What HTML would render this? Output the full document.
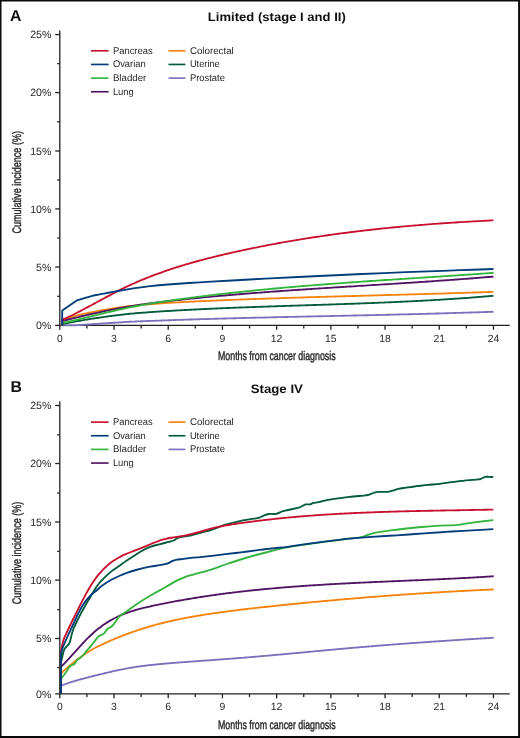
<!DOCTYPE html>
<html><head><meta charset="utf-8"><style>
html,body{margin:0;padding:0;background:#fff;width:520px;height:738px;overflow:hidden}
svg{display:block;will-change:transform}
</style></head><body>
<svg width="520" height="738" viewBox="0 0 520 738" font-family='"Liberation Sans", sans-serif' style="text-rendering:geometricPrecision">
<rect x="0" y="0" width="520" height="738" fill="#ffffff"/>
<line x1="59.8" y1="30.4" x2="59.8" y2="329.79999999999995" stroke="#231f20" stroke-width="1.3"/>
<line x1="55.199999999999996" y1="325.4" x2="509.7" y2="325.4" stroke="#231f20" stroke-width="1.3"/>
<line x1="55.199999999999996" y1="34.6" x2="59.8" y2="34.6" stroke="#231f20" stroke-width="1.3"/>
<text x="51.4" y="38.20" text-anchor="end" font-size="10.6" fill="#272727">25%</text>
<line x1="57.199999999999996" y1="63.6" x2="59.8" y2="63.6" stroke="#231f20" stroke-width="1.3"/>
<line x1="55.199999999999996" y1="92.6" x2="59.8" y2="92.6" stroke="#231f20" stroke-width="1.3"/>
<text x="51.4" y="96.20" text-anchor="end" font-size="10.6" fill="#272727">20%</text>
<line x1="57.199999999999996" y1="121.8" x2="59.8" y2="121.8" stroke="#231f20" stroke-width="1.3"/>
<line x1="55.199999999999996" y1="151.0" x2="59.8" y2="151.0" stroke="#231f20" stroke-width="1.3"/>
<text x="51.4" y="154.60" text-anchor="end" font-size="10.6" fill="#272727">15%</text>
<line x1="57.199999999999996" y1="180.0" x2="59.8" y2="180.0" stroke="#231f20" stroke-width="1.3"/>
<line x1="55.199999999999996" y1="208.9" x2="59.8" y2="208.9" stroke="#231f20" stroke-width="1.3"/>
<text x="51.4" y="212.50" text-anchor="end" font-size="10.6" fill="#272727">10%</text>
<line x1="57.199999999999996" y1="238.0" x2="59.8" y2="238.0" stroke="#231f20" stroke-width="1.3"/>
<line x1="55.199999999999996" y1="267.0" x2="59.8" y2="267.0" stroke="#231f20" stroke-width="1.3"/>
<text x="51.4" y="270.60" text-anchor="end" font-size="10.6" fill="#272727">5%</text>
<line x1="57.199999999999996" y1="296.3" x2="59.8" y2="296.3" stroke="#231f20" stroke-width="1.3"/>
<text x="51.4" y="329.00" text-anchor="end" font-size="10.6" fill="#272727">0%</text>
<line x1="86.91" y1="325.4" x2="86.91" y2="328.4" stroke="#231f20" stroke-width="1.3"/>
<line x1="114.01" y1="325.4" x2="114.01" y2="329.79999999999995" stroke="#231f20" stroke-width="1.3"/>
<line x1="141.12" y1="325.4" x2="141.12" y2="328.4" stroke="#231f20" stroke-width="1.3"/>
<line x1="168.22" y1="325.4" x2="168.22" y2="329.79999999999995" stroke="#231f20" stroke-width="1.3"/>
<line x1="195.32" y1="325.4" x2="195.32" y2="328.4" stroke="#231f20" stroke-width="1.3"/>
<line x1="222.43" y1="325.4" x2="222.43" y2="329.79999999999995" stroke="#231f20" stroke-width="1.3"/>
<line x1="249.54" y1="325.4" x2="249.54" y2="328.4" stroke="#231f20" stroke-width="1.3"/>
<line x1="276.64" y1="325.4" x2="276.64" y2="329.79999999999995" stroke="#231f20" stroke-width="1.3"/>
<line x1="303.75" y1="325.4" x2="303.75" y2="328.4" stroke="#231f20" stroke-width="1.3"/>
<line x1="330.85" y1="325.4" x2="330.85" y2="329.79999999999995" stroke="#231f20" stroke-width="1.3"/>
<line x1="357.96" y1="325.4" x2="357.96" y2="328.4" stroke="#231f20" stroke-width="1.3"/>
<line x1="385.06" y1="325.4" x2="385.06" y2="329.79999999999995" stroke="#231f20" stroke-width="1.3"/>
<line x1="412.17" y1="325.4" x2="412.17" y2="328.4" stroke="#231f20" stroke-width="1.3"/>
<line x1="439.27" y1="325.4" x2="439.27" y2="329.79999999999995" stroke="#231f20" stroke-width="1.3"/>
<line x1="466.38" y1="325.4" x2="466.38" y2="328.4" stroke="#231f20" stroke-width="1.3"/>
<line x1="493.48" y1="325.4" x2="493.48" y2="329.79999999999995" stroke="#231f20" stroke-width="1.3"/>
<text x="59.80" y="341.7" text-anchor="middle" font-size="10.4" fill="#272727">0</text>
<text x="114.01" y="341.7" text-anchor="middle" font-size="10.4" fill="#272727">3</text>
<text x="168.22" y="341.7" text-anchor="middle" font-size="10.4" fill="#272727">6</text>
<text x="222.43" y="341.7" text-anchor="middle" font-size="10.4" fill="#272727">9</text>
<text x="276.64" y="341.7" text-anchor="middle" font-size="10.4" fill="#272727">12</text>
<text x="330.85" y="341.7" text-anchor="middle" font-size="10.4" fill="#272727">15</text>
<text x="385.06" y="341.7" text-anchor="middle" font-size="10.4" fill="#272727">18</text>
<text x="439.27" y="341.7" text-anchor="middle" font-size="10.4" fill="#272727">21</text>
<text x="493.48" y="341.7" text-anchor="middle" font-size="10.4" fill="#272727">24</text>
<text x="10.0" y="21.1" font-size="15.8" font-weight="bold" fill="#111">A</text>
<text x="276.8" y="21.3" text-anchor="middle" font-size="12.2" font-weight="bold" fill="#111" textLength="138" lengthAdjust="spacingAndGlyphs">Limited (stage I and II)</text>
<text x="276.8" y="360.0" text-anchor="middle" font-size="12.4" fill="#272727" stroke="#272727" stroke-width="0.4" textLength="117.6" lengthAdjust="spacingAndGlyphs">Months from cancer diagnosis</text>
<text transform="translate(20.6,182.3) rotate(-90)" x="0" y="0" text-anchor="middle" font-size="12.4" fill="#272727" stroke="#272727" stroke-width="0.4" textLength="102.5" lengthAdjust="spacingAndGlyphs">Cumulative incidence (%)</text>
<line x1="91" y1="50.80" x2="108.6" y2="50.80" stroke="#c8102e" stroke-width="1.65"/>
<text x="112.9" y="53.70" font-size="9.8" fill="#272727" textLength="39.8" lengthAdjust="spacingAndGlyphs">Pancreas</text>
<line x1="91" y1="64.45" x2="108.6" y2="64.45" stroke="#003d7a" stroke-width="1.65"/>
<text x="112.9" y="67.35" font-size="9.8" fill="#272727" textLength="32.8" lengthAdjust="spacingAndGlyphs">Ovarian</text>
<line x1="91" y1="78.10" x2="108.6" y2="78.10" stroke="#33b43c" stroke-width="1.65"/>
<text x="112.9" y="81.00" font-size="9.8" fill="#272727" textLength="33.4" lengthAdjust="spacingAndGlyphs">Bladder</text>
<line x1="91" y1="91.75" x2="108.6" y2="91.75" stroke="#501464" stroke-width="1.65"/>
<text x="112.9" y="94.65" font-size="9.8" fill="#272727" textLength="20.9" lengthAdjust="spacingAndGlyphs">Lung</text>
<line x1="168.5" y1="50.80" x2="185.4" y2="50.80" stroke="#f5820a" stroke-width="1.65"/>
<text x="189.9" y="53.70" font-size="9.8" fill="#272727" textLength="43.9" lengthAdjust="spacingAndGlyphs">Colorectal</text>
<line x1="168.5" y1="64.45" x2="185.4" y2="64.45" stroke="#005a3c" stroke-width="1.65"/>
<text x="189.9" y="67.35" font-size="9.8" fill="#272727" textLength="29.9" lengthAdjust="spacingAndGlyphs">Uterine</text>
<line x1="168.5" y1="78.10" x2="185.4" y2="78.10" stroke="#7a70bb" stroke-width="1.65"/>
<text x="189.9" y="81.00" font-size="9.8" fill="#272727" textLength="35.0" lengthAdjust="spacingAndGlyphs">Prostate</text>
<line x1="59.8" y1="401.3" x2="59.8" y2="698.3" stroke="#231f20" stroke-width="1.3"/>
<line x1="55.199999999999996" y1="693.9" x2="509.7" y2="693.9" stroke="#231f20" stroke-width="1.3"/>
<line x1="55.199999999999996" y1="405.5" x2="59.8" y2="405.5" stroke="#231f20" stroke-width="1.3"/>
<text x="51.4" y="409.10" text-anchor="end" font-size="10.6" fill="#272727">25%</text>
<line x1="57.199999999999996" y1="434.8" x2="59.8" y2="434.8" stroke="#231f20" stroke-width="1.3"/>
<line x1="55.199999999999996" y1="463.5" x2="59.8" y2="463.5" stroke="#231f20" stroke-width="1.3"/>
<text x="51.4" y="467.10" text-anchor="end" font-size="10.6" fill="#272727">20%</text>
<line x1="57.199999999999996" y1="493.0" x2="59.8" y2="493.0" stroke="#231f20" stroke-width="1.3"/>
<line x1="55.199999999999996" y1="522.0" x2="59.8" y2="522.0" stroke="#231f20" stroke-width="1.3"/>
<text x="51.4" y="525.60" text-anchor="end" font-size="10.6" fill="#272727">15%</text>
<line x1="57.199999999999996" y1="551.4" x2="59.8" y2="551.4" stroke="#231f20" stroke-width="1.3"/>
<line x1="55.199999999999996" y1="580.1" x2="59.8" y2="580.1" stroke="#231f20" stroke-width="1.3"/>
<text x="51.4" y="583.70" text-anchor="end" font-size="10.6" fill="#272727">10%</text>
<line x1="57.199999999999996" y1="609.7" x2="59.8" y2="609.7" stroke="#231f20" stroke-width="1.3"/>
<line x1="55.199999999999996" y1="638.5" x2="59.8" y2="638.5" stroke="#231f20" stroke-width="1.3"/>
<text x="51.4" y="642.10" text-anchor="end" font-size="10.6" fill="#272727">5%</text>
<line x1="57.199999999999996" y1="667.6" x2="59.8" y2="667.6" stroke="#231f20" stroke-width="1.3"/>
<text x="51.4" y="697.50" text-anchor="end" font-size="10.6" fill="#272727">0%</text>
<line x1="86.91" y1="693.9" x2="86.91" y2="696.9" stroke="#231f20" stroke-width="1.3"/>
<line x1="114.01" y1="693.9" x2="114.01" y2="698.3" stroke="#231f20" stroke-width="1.3"/>
<line x1="141.12" y1="693.9" x2="141.12" y2="696.9" stroke="#231f20" stroke-width="1.3"/>
<line x1="168.22" y1="693.9" x2="168.22" y2="698.3" stroke="#231f20" stroke-width="1.3"/>
<line x1="195.32" y1="693.9" x2="195.32" y2="696.9" stroke="#231f20" stroke-width="1.3"/>
<line x1="222.43" y1="693.9" x2="222.43" y2="698.3" stroke="#231f20" stroke-width="1.3"/>
<line x1="249.54" y1="693.9" x2="249.54" y2="696.9" stroke="#231f20" stroke-width="1.3"/>
<line x1="276.64" y1="693.9" x2="276.64" y2="698.3" stroke="#231f20" stroke-width="1.3"/>
<line x1="303.75" y1="693.9" x2="303.75" y2="696.9" stroke="#231f20" stroke-width="1.3"/>
<line x1="330.85" y1="693.9" x2="330.85" y2="698.3" stroke="#231f20" stroke-width="1.3"/>
<line x1="357.96" y1="693.9" x2="357.96" y2="696.9" stroke="#231f20" stroke-width="1.3"/>
<line x1="385.06" y1="693.9" x2="385.06" y2="698.3" stroke="#231f20" stroke-width="1.3"/>
<line x1="412.17" y1="693.9" x2="412.17" y2="696.9" stroke="#231f20" stroke-width="1.3"/>
<line x1="439.27" y1="693.9" x2="439.27" y2="698.3" stroke="#231f20" stroke-width="1.3"/>
<line x1="466.38" y1="693.9" x2="466.38" y2="696.9" stroke="#231f20" stroke-width="1.3"/>
<line x1="493.48" y1="693.9" x2="493.48" y2="698.3" stroke="#231f20" stroke-width="1.3"/>
<text x="59.80" y="709.5" text-anchor="middle" font-size="10.4" fill="#272727">0</text>
<text x="114.01" y="709.5" text-anchor="middle" font-size="10.4" fill="#272727">3</text>
<text x="168.22" y="709.5" text-anchor="middle" font-size="10.4" fill="#272727">6</text>
<text x="222.43" y="709.5" text-anchor="middle" font-size="10.4" fill="#272727">9</text>
<text x="276.64" y="709.5" text-anchor="middle" font-size="10.4" fill="#272727">12</text>
<text x="330.85" y="709.5" text-anchor="middle" font-size="10.4" fill="#272727">15</text>
<text x="385.06" y="709.5" text-anchor="middle" font-size="10.4" fill="#272727">18</text>
<text x="439.27" y="709.5" text-anchor="middle" font-size="10.4" fill="#272727">21</text>
<text x="493.48" y="709.5" text-anchor="middle" font-size="10.4" fill="#272727">24</text>
<text x="10.4" y="392.4" font-size="15.8" font-weight="bold" fill="#111">B</text>
<text x="276.8" y="392.7" text-anchor="middle" font-size="12.2" font-weight="bold" fill="#111" textLength="52.2" lengthAdjust="spacingAndGlyphs">Stage IV</text>
<text x="276.8" y="728.8" text-anchor="middle" font-size="12.4" fill="#272727" stroke="#272727" stroke-width="0.4" textLength="117.6" lengthAdjust="spacingAndGlyphs">Months from cancer diagnosis</text>
<text transform="translate(20.6,553.0) rotate(-90)" x="0" y="0" text-anchor="middle" font-size="12.4" fill="#272727" stroke="#272727" stroke-width="0.4" textLength="102.5" lengthAdjust="spacingAndGlyphs">Cumulative incidence (%)</text>
<line x1="91" y1="422.10" x2="108.6" y2="422.10" stroke="#c8102e" stroke-width="1.65"/>
<text x="112.9" y="425.00" font-size="9.8" fill="#272727" textLength="39.8" lengthAdjust="spacingAndGlyphs">Pancreas</text>
<line x1="91" y1="435.75" x2="108.6" y2="435.75" stroke="#003d7a" stroke-width="1.65"/>
<text x="112.9" y="438.65" font-size="9.8" fill="#272727" textLength="32.8" lengthAdjust="spacingAndGlyphs">Ovarian</text>
<line x1="91" y1="449.40" x2="108.6" y2="449.40" stroke="#33b43c" stroke-width="1.65"/>
<text x="112.9" y="452.30" font-size="9.8" fill="#272727" textLength="33.4" lengthAdjust="spacingAndGlyphs">Bladder</text>
<line x1="91" y1="463.05" x2="108.6" y2="463.05" stroke="#501464" stroke-width="1.65"/>
<text x="112.9" y="465.95" font-size="9.8" fill="#272727" textLength="20.9" lengthAdjust="spacingAndGlyphs">Lung</text>
<line x1="168.5" y1="422.10" x2="185.4" y2="422.10" stroke="#f5820a" stroke-width="1.65"/>
<text x="189.9" y="425.00" font-size="9.8" fill="#272727" textLength="43.9" lengthAdjust="spacingAndGlyphs">Colorectal</text>
<line x1="168.5" y1="435.75" x2="185.4" y2="435.75" stroke="#005a3c" stroke-width="1.65"/>
<text x="189.9" y="438.65" font-size="9.8" fill="#272727" textLength="29.9" lengthAdjust="spacingAndGlyphs">Uterine</text>
<line x1="168.5" y1="449.40" x2="185.4" y2="449.40" stroke="#7a70bb" stroke-width="1.65"/>
<text x="189.9" y="452.30" font-size="9.8" fill="#272727" textLength="35.0" lengthAdjust="spacingAndGlyphs">Prostate</text>
<path d="M62.20,325.40 L62.20,325.00 L62.20,325.30 C62.62,325.30 63.87,325.30 64.70,325.30 C65.53,325.30 66.37,325.30 67.20,325.30 C68.03,325.30 68.87,325.30 69.70,325.30 C70.53,325.30 71.37,325.30 72.20,325.30 C73.03,325.30 73.87,325.32 74.70,325.30 C75.53,325.28 76.37,325.21 77.20,325.16 C78.03,325.11 78.87,325.05 79.70,325.00 C80.53,324.94 81.37,324.89 82.20,324.83 C83.03,324.78 83.87,324.72 84.70,324.67 C85.53,324.62 86.37,324.56 87.20,324.51 C88.03,324.46 88.87,324.40 89.70,324.35 C90.53,324.30 91.37,324.24 92.20,324.19 C93.03,324.14 93.87,324.09 94.70,324.04 C95.53,323.98 96.37,323.93 97.20,323.88 C98.03,323.83 98.87,323.77 99.70,323.71 C100.53,323.66 101.37,323.60 102.20,323.54 C103.03,323.49 103.87,323.43 104.70,323.38 C105.53,323.32 106.37,323.26 107.20,323.21 C108.03,323.15 108.87,323.10 109.70,323.04 C110.53,322.99 111.37,322.93 112.20,322.88 C113.03,322.82 113.87,322.77 114.70,322.71 C115.53,322.66 116.37,322.61 117.20,322.55 C118.03,322.50 118.87,322.45 119.70,322.39 C120.53,322.34 121.37,322.29 122.20,322.23 C123.03,322.18 123.87,322.13 124.70,322.08 C125.53,322.02 126.37,321.97 127.20,321.92 C128.03,321.87 128.87,321.81 129.70,321.77 C130.53,321.72 131.37,321.69 132.20,321.65 C133.03,321.62 133.87,321.58 134.70,321.55 C135.53,321.51 136.37,321.48 137.20,321.45 C138.03,321.41 138.87,321.38 139.70,321.34 C140.53,321.31 141.37,321.27 142.20,321.24 C143.03,321.21 143.87,321.17 144.70,321.14 C145.53,321.11 146.37,321.08 147.20,321.04 C148.03,321.01 148.87,320.98 149.70,320.95 C150.53,320.91 151.37,320.88 152.20,320.85 C153.03,320.82 153.87,320.79 154.70,320.75 C155.53,320.72 156.37,320.69 157.20,320.66 C158.03,320.63 158.87,320.60 159.70,320.57 C160.53,320.54 161.37,320.51 162.20,320.48 C163.03,320.44 163.87,320.41 164.70,320.38 C165.53,320.35 166.37,320.32 167.20,320.30 C168.03,320.27 168.87,320.24 169.70,320.21 C170.53,320.18 171.37,320.15 172.20,320.12 C173.03,320.09 173.87,320.06 174.70,320.03 C175.53,320.00 176.37,319.98 177.20,319.95 C178.03,319.92 178.87,319.89 179.70,319.86 C180.53,319.84 181.37,319.81 182.20,319.78 C183.03,319.75 183.87,319.73 184.70,319.70 C185.53,319.67 186.37,319.64 187.20,319.62 C188.03,319.59 188.87,319.56 189.70,319.54 C190.53,319.51 191.37,319.48 192.20,319.46 C193.03,319.43 193.87,319.41 194.70,319.38 C195.53,319.35 196.37,319.33 197.20,319.30 C198.03,319.28 198.87,319.25 199.70,319.23 C200.53,319.20 201.37,319.18 202.20,319.15 C203.03,319.12 203.87,319.10 204.70,319.08 C205.53,319.05 206.37,319.03 207.20,319.00 C208.03,318.98 208.87,318.95 209.70,318.93 C210.53,318.90 211.37,318.88 212.20,318.86 C213.03,318.83 213.87,318.81 214.70,318.78 C215.53,318.76 216.37,318.74 217.20,318.71 C218.03,318.69 218.87,318.67 219.70,318.64 C220.53,318.62 221.37,318.60 222.20,318.57 C223.03,318.55 223.87,318.53 224.70,318.50 C225.53,318.48 226.37,318.46 227.20,318.44 C228.03,318.41 228.87,318.39 229.70,318.37 C230.53,318.35 231.37,318.33 232.20,318.30 C233.03,318.28 233.87,318.26 234.70,318.24 C235.53,318.22 236.37,318.19 237.20,318.17 C238.03,318.15 238.87,318.13 239.70,318.11 C240.53,318.09 241.37,318.06 242.20,318.04 C243.03,318.02 243.87,318.00 244.70,317.98 C245.53,317.96 246.37,317.94 247.20,317.92 C248.03,317.90 248.87,317.87 249.70,317.85 C250.53,317.83 251.37,317.81 252.20,317.79 C253.03,317.77 253.87,317.75 254.70,317.73 C255.53,317.71 256.37,317.69 257.20,317.67 C258.03,317.65 258.87,317.63 259.70,317.61 C260.53,317.59 261.37,317.57 262.20,317.55 C263.03,317.53 263.87,317.51 264.70,317.49 C265.53,317.47 266.37,317.45 267.20,317.43 C268.03,317.41 268.87,317.39 269.70,317.37 C270.53,317.35 271.37,317.33 272.20,317.31 C273.03,317.29 273.87,317.28 274.70,317.26 C275.53,317.24 276.37,317.22 277.20,317.20 C278.03,317.18 278.87,317.16 279.70,317.14 C280.53,317.12 281.37,317.10 282.20,317.09 C283.03,317.07 283.87,317.05 284.70,317.03 C285.53,317.01 286.37,316.99 287.20,316.97 C288.03,316.95 288.87,316.94 289.70,316.92 C290.53,316.90 291.37,316.88 292.20,316.86 C293.03,316.84 293.87,316.82 294.70,316.81 C295.53,316.79 296.37,316.77 297.20,316.75 C298.03,316.73 298.87,316.71 299.70,316.70 C300.53,316.68 301.37,316.66 302.20,316.64 C303.03,316.62 303.87,316.60 304.70,316.59 C305.53,316.57 306.37,316.55 307.20,316.53 C308.03,316.51 308.87,316.50 309.70,316.48 C310.53,316.46 311.37,316.44 312.20,316.42 C313.03,316.41 313.87,316.39 314.70,316.37 C315.53,316.35 316.37,316.33 317.20,316.32 C318.03,316.30 318.87,316.28 319.70,316.26 C320.53,316.24 321.37,316.23 322.20,316.21 C323.03,316.19 323.87,316.17 324.70,316.15 C325.53,316.14 326.37,316.12 327.20,316.10 C328.03,316.08 328.87,316.06 329.70,316.05 C330.53,316.03 331.37,316.01 332.20,315.99 C333.03,315.98 333.87,315.96 334.70,315.94 C335.53,315.92 336.37,315.90 337.20,315.89 C338.03,315.87 338.87,315.85 339.70,315.83 C340.53,315.81 341.37,315.80 342.20,315.78 C343.03,315.76 343.87,315.74 344.70,315.72 C345.53,315.71 346.37,315.69 347.20,315.67 C348.03,315.65 348.87,315.63 349.70,315.62 C350.53,315.60 351.37,315.58 352.20,315.56 C353.03,315.54 353.87,315.53 354.70,315.51 C355.53,315.49 356.37,315.47 357.20,315.45 C358.03,315.43 358.87,315.42 359.70,315.40 C360.53,315.38 361.37,315.36 362.20,315.34 C363.03,315.32 363.87,315.31 364.70,315.29 C365.53,315.27 366.37,315.25 367.20,315.23 C368.03,315.21 368.87,315.19 369.70,315.18 C370.53,315.16 371.37,315.14 372.20,315.12 C373.03,315.10 373.87,315.08 374.70,315.06 C375.53,315.05 376.37,315.03 377.20,315.01 C378.03,314.99 378.87,314.97 379.70,314.95 C380.53,314.93 381.37,314.91 382.20,314.89 C383.03,314.87 383.87,314.85 384.70,314.84 C385.53,314.82 386.37,314.80 387.20,314.78 C388.03,314.76 388.87,314.74 389.70,314.72 C390.53,314.70 391.37,314.68 392.20,314.66 C393.03,314.64 393.87,314.62 394.70,314.60 C395.53,314.58 396.37,314.56 397.20,314.54 C398.03,314.52 398.87,314.50 399.70,314.48 C400.53,314.46 401.37,314.44 402.20,314.42 C403.03,314.40 403.87,314.38 404.70,314.36 C405.53,314.34 406.37,314.32 407.20,314.30 C408.03,314.28 408.87,314.26 409.70,314.24 C410.53,314.21 411.37,314.19 412.20,314.17 C413.03,314.15 413.87,314.13 414.70,314.11 C415.53,314.09 416.37,314.07 417.20,314.05 C418.03,314.02 418.87,314.00 419.70,313.98 C420.53,313.96 421.37,313.94 422.20,313.92 C423.03,313.89 423.87,313.87 424.70,313.85 C425.53,313.83 426.37,313.81 427.20,313.78 C428.03,313.76 428.87,313.74 429.70,313.72 C430.53,313.70 431.37,313.67 432.20,313.65 C433.03,313.63 433.87,313.60 434.70,313.58 C435.53,313.56 436.37,313.54 437.20,313.51 C438.03,313.49 438.87,313.47 439.70,313.44 C440.53,313.42 441.37,313.40 442.20,313.37 C443.03,313.35 443.87,313.33 444.70,313.30 C445.53,313.28 446.37,313.25 447.20,313.23 C448.03,313.21 448.87,313.18 449.70,313.16 C450.53,313.13 451.37,313.11 452.20,313.08 C453.03,313.06 453.87,313.03 454.70,313.01 C455.53,312.98 456.37,312.96 457.20,312.93 C458.03,312.91 458.87,312.88 459.70,312.86 C460.53,312.83 461.37,312.81 462.20,312.78 C463.03,312.75 463.87,312.73 464.70,312.70 C465.53,312.68 466.37,312.65 467.20,312.62 C468.03,312.60 468.87,312.57 469.70,312.54 C470.53,312.52 471.37,312.49 472.20,312.46 C473.03,312.44 473.87,312.41 474.70,312.38 C475.53,312.35 476.37,312.33 477.20,312.30 C478.03,312.27 478.87,312.24 479.70,312.22 C480.53,312.19 481.37,312.16 482.20,312.13 C483.03,312.10 483.87,312.07 484.70,312.04 C485.53,312.02 486.37,311.99 487.20,311.96 C488.03,311.93 488.87,311.90 489.70,311.87 C490.53,311.84 491.57,311.80 492.20,311.78 C492.83,311.76 493.28,311.74 493.50,311.73" fill="none" stroke="#7a70bb" stroke-width="1.85" stroke-linejoin="round" stroke-linecap="butt"/>
<path d="M62.20,325.40 L62.20,324.30 L62.20,324.15 C62.62,324.06 63.87,323.80 64.70,323.62 C65.53,323.45 66.37,323.28 67.20,323.11 C68.03,322.95 68.87,322.78 69.70,322.62 C70.53,322.45 71.37,322.29 72.20,322.13 C73.03,321.97 73.87,321.82 74.70,321.66 C75.53,321.51 76.37,321.36 77.20,321.20 C78.03,321.05 78.87,320.91 79.70,320.76 C80.53,320.61 81.37,320.47 82.20,320.33 C83.03,320.18 83.87,320.04 84.70,319.90 C85.53,319.76 86.37,319.63 87.20,319.49 C88.03,319.36 88.87,319.23 89.70,319.09 C90.53,318.96 91.37,318.83 92.20,318.71 C93.03,318.58 93.87,318.45 94.70,318.33 C95.53,318.20 96.37,318.08 97.20,317.96 C98.03,317.84 98.87,317.72 99.70,317.59 C100.53,317.47 101.37,317.35 102.20,317.23 C103.03,317.11 103.87,316.99 104.70,316.87 C105.53,316.75 106.37,316.64 107.20,316.53 C108.03,316.41 108.87,316.30 109.70,316.19 C110.53,316.08 111.37,315.97 112.20,315.86 C113.03,315.75 113.87,315.65 114.70,315.54 C115.53,315.44 116.37,315.33 117.20,315.23 C118.03,315.13 118.87,315.03 119.70,314.93 C120.53,314.83 121.37,314.73 122.20,314.63 C123.03,314.53 123.87,314.44 124.70,314.34 C125.53,314.25 126.37,314.15 127.20,314.06 C128.03,313.97 128.87,313.87 129.70,313.79 C130.53,313.71 131.37,313.64 132.20,313.56 C133.03,313.49 133.87,313.42 134.70,313.35 C135.53,313.28 136.37,313.21 137.20,313.14 C138.03,313.07 138.87,313.01 139.70,312.94 C140.53,312.87 141.37,312.81 142.20,312.75 C143.03,312.68 143.87,312.62 144.70,312.55 C145.53,312.49 146.37,312.43 147.20,312.37 C148.03,312.31 148.87,312.25 149.70,312.19 C150.53,312.13 151.37,312.07 152.20,312.01 C153.03,311.96 153.87,311.90 154.70,311.84 C155.53,311.79 156.37,311.73 157.20,311.68 C158.03,311.62 158.87,311.57 159.70,311.51 C160.53,311.46 161.37,311.40 162.20,311.35 C163.03,311.30 163.87,311.25 164.70,311.20 C165.53,311.14 166.37,311.09 167.20,311.04 C168.03,310.99 168.87,310.94 169.70,310.89 C170.53,310.84 171.37,310.79 172.20,310.74 C173.03,310.69 173.87,310.64 174.70,310.60 C175.53,310.55 176.37,310.50 177.20,310.45 C178.03,310.41 178.87,310.36 179.70,310.31 C180.53,310.27 181.37,310.22 182.20,310.17 C183.03,310.13 183.87,310.08 184.70,310.04 C185.53,309.99 186.37,309.95 187.20,309.90 C188.03,309.86 188.87,309.82 189.70,309.77 C190.53,309.73 191.37,309.69 192.20,309.64 C193.03,309.60 193.87,309.56 194.70,309.52 C195.53,309.47 196.37,309.43 197.20,309.39 C198.03,309.35 198.87,309.31 199.70,309.27 C200.53,309.23 201.37,309.19 202.20,309.15 C203.03,309.11 203.87,309.07 204.70,309.03 C205.53,308.99 206.37,308.95 207.20,308.91 C208.03,308.87 208.87,308.83 209.70,308.79 C210.53,308.76 211.37,308.72 212.20,308.68 C213.03,308.64 213.87,308.61 214.70,308.57 C215.53,308.53 216.37,308.50 217.20,308.46 C218.03,308.42 218.87,308.39 219.70,308.35 C220.53,308.32 221.37,308.28 222.20,308.24 C223.03,308.21 223.87,308.17 224.70,308.14 C225.53,308.10 226.37,308.07 227.20,308.04 C228.03,308.00 228.87,307.97 229.70,307.93 C230.53,307.90 231.37,307.87 232.20,307.83 C233.03,307.80 233.87,307.77 234.70,307.73 C235.53,307.70 236.37,307.67 237.20,307.64 C238.03,307.60 238.87,307.57 239.70,307.54 C240.53,307.51 241.37,307.48 242.20,307.44 C243.03,307.41 243.87,307.38 244.70,307.35 C245.53,307.32 246.37,307.29 247.20,307.26 C248.03,307.23 248.87,307.20 249.70,307.17 C250.53,307.13 251.37,307.10 252.20,307.07 C253.03,307.04 253.87,307.01 254.70,306.98 C255.53,306.95 256.37,306.93 257.20,306.90 C258.03,306.87 258.87,306.84 259.70,306.81 C260.53,306.78 261.37,306.75 262.20,306.72 C263.03,306.69 263.87,306.66 264.70,306.63 C265.53,306.61 266.37,306.58 267.20,306.55 C268.03,306.52 268.87,306.49 269.70,306.46 C270.53,306.44 271.37,306.41 272.20,306.38 C273.03,306.35 273.87,306.32 274.70,306.30 C275.53,306.27 276.37,306.24 277.20,306.21 C278.03,306.19 278.87,306.16 279.70,306.13 C280.53,306.10 281.37,306.08 282.20,306.05 C283.03,306.02 283.87,305.99 284.70,305.97 C285.53,305.94 286.37,305.91 287.20,305.89 C288.03,305.86 288.87,305.83 289.70,305.80 C290.53,305.78 291.37,305.75 292.20,305.72 C293.03,305.70 293.87,305.67 294.70,305.64 C295.53,305.62 296.37,305.59 297.20,305.56 C298.03,305.54 298.87,305.51 299.70,305.48 C300.53,305.46 301.37,305.43 302.20,305.40 C303.03,305.38 303.87,305.35 304.70,305.32 C305.53,305.30 306.37,305.27 307.20,305.24 C308.03,305.22 308.87,305.19 309.70,305.16 C310.53,305.14 311.37,305.11 312.20,305.08 C313.03,305.06 313.87,305.03 314.70,305.00 C315.53,304.98 316.37,304.95 317.20,304.92 C318.03,304.90 318.87,304.87 319.70,304.84 C320.53,304.82 321.37,304.79 322.20,304.76 C323.03,304.73 323.87,304.71 324.70,304.68 C325.53,304.65 326.37,304.63 327.20,304.60 C328.03,304.57 328.87,304.54 329.70,304.52 C330.53,304.49 331.37,304.46 332.20,304.43 C333.03,304.41 333.87,304.38 334.70,304.35 C335.53,304.32 336.37,304.29 337.20,304.27 C338.03,304.24 338.87,304.21 339.70,304.18 C340.53,304.15 341.37,304.13 342.20,304.10 C343.03,304.07 343.87,304.04 344.70,304.01 C345.53,303.98 346.37,303.95 347.20,303.92 C348.03,303.90 348.87,303.87 349.70,303.84 C350.53,303.81 351.37,303.78 352.20,303.75 C353.03,303.72 353.87,303.69 354.70,303.66 C355.53,303.63 356.37,303.60 357.20,303.57 C358.03,303.54 358.87,303.51 359.70,303.48 C360.53,303.45 361.37,303.42 362.20,303.39 C363.03,303.35 363.87,303.32 364.70,303.29 C365.53,303.26 366.37,303.23 367.20,303.20 C368.03,303.17 368.87,303.13 369.70,303.10 C370.53,303.07 371.37,303.04 372.20,303.00 C373.03,302.97 373.87,302.94 374.70,302.91 C375.53,302.87 376.37,302.84 377.20,302.81 C378.03,302.77 378.87,302.74 379.70,302.70 C380.53,302.67 381.37,302.64 382.20,302.60 C383.03,302.57 383.87,302.53 384.70,302.50 C385.53,302.46 386.37,302.43 387.20,302.39 C388.03,302.36 388.87,302.32 389.70,302.28 C390.53,302.25 391.37,302.21 392.20,302.18 C393.03,302.14 393.87,302.10 394.70,302.06 C395.53,302.03 396.37,301.99 397.20,301.95 C398.03,301.91 398.87,301.88 399.70,301.84 C400.53,301.80 401.37,301.76 402.20,301.72 C403.03,301.68 403.87,301.64 404.70,301.60 C405.53,301.56 406.37,301.52 407.20,301.48 C408.03,301.44 408.87,301.40 409.70,301.36 C410.53,301.32 411.37,301.28 412.20,301.24 C413.03,301.20 413.87,301.15 414.70,301.11 C415.53,301.07 416.37,301.03 417.20,300.98 C418.03,300.94 418.87,300.90 419.70,300.85 C420.53,300.81 421.37,300.77 422.20,300.72 C423.03,300.68 423.87,300.63 424.70,300.59 C425.53,300.54 426.37,300.50 427.20,300.45 C428.03,300.40 428.87,300.36 429.70,300.31 C430.53,300.26 431.37,300.22 432.20,300.17 C433.03,300.12 433.87,300.07 434.70,300.02 C435.53,299.97 436.37,299.93 437.20,299.88 C438.03,299.83 438.87,299.78 439.70,299.73 C440.53,299.68 441.37,299.63 442.20,299.57 C443.03,299.52 443.87,299.47 444.70,299.42 C445.53,299.37 446.37,299.32 447.20,299.26 C448.03,299.21 448.87,299.16 449.70,299.10 C450.53,299.05 451.37,298.99 452.20,298.94 C453.03,298.88 453.87,298.83 454.70,298.77 C455.53,298.72 456.37,298.66 457.20,298.60 C458.03,298.55 458.87,298.49 459.70,298.43 C460.53,298.37 461.37,298.32 462.20,298.26 C463.03,298.20 463.87,298.14 464.70,298.08 C465.53,298.02 466.37,297.96 467.20,297.90 C468.03,297.84 468.87,297.78 469.70,297.71 C470.53,297.65 471.37,297.59 472.20,297.53 C473.03,297.46 473.87,297.40 474.70,297.34 C475.53,297.27 476.37,297.21 477.20,297.14 C478.03,297.08 478.87,297.01 479.70,296.95 C480.53,296.88 481.37,296.81 482.20,296.74 C483.03,296.68 483.87,296.61 484.70,296.54 C485.53,296.47 486.37,296.40 487.20,296.33 C488.03,296.26 488.87,296.19 489.70,296.12 C490.53,296.05 491.57,295.96 492.20,295.91 C492.83,295.85 493.28,295.81 493.50,295.79" fill="none" stroke="#005a3c" stroke-width="1.85" stroke-linejoin="round" stroke-linecap="butt"/>
<path d="M62.20,325.40 L62.20,320.10 L62.20,319.51 C62.70,319.37 64.20,318.92 65.20,318.64 C66.20,318.35 67.20,318.07 68.20,317.80 C69.20,317.52 70.20,317.25 71.20,316.99 C72.20,316.73 73.20,316.47 74.20,316.21 C75.20,315.96 76.20,315.71 77.20,315.47 C78.20,315.22 79.20,314.99 80.20,314.75 C81.20,314.52 82.20,314.29 83.20,314.07 C84.20,313.84 85.20,313.62 86.20,313.41 C87.20,313.19 88.20,312.98 89.20,312.77 C90.20,312.57 91.20,312.37 92.20,312.17 C93.20,311.97 94.20,311.78 95.20,311.59 C96.20,311.40 97.20,311.21 98.20,311.03 C99.20,310.84 100.20,310.65 101.20,310.47 C102.20,310.28 103.20,310.10 104.20,309.93 C105.20,309.75 106.20,309.58 107.20,309.41 C108.20,309.24 109.20,309.07 110.20,308.91 C111.20,308.75 112.20,308.59 113.20,308.43 C114.20,308.27 115.20,308.12 116.20,307.97 C117.20,307.82 118.20,307.67 119.20,307.52 C120.20,307.37 121.20,307.23 122.20,307.09 C123.20,306.95 124.20,306.81 125.20,306.68 C126.20,306.54 127.20,306.40 128.20,306.28 C129.20,306.15 130.20,306.03 131.20,305.92 C132.20,305.80 133.20,305.70 134.20,305.60 C135.20,305.50 136.20,305.40 137.20,305.30 C138.20,305.20 139.20,305.11 140.20,305.01 C141.20,304.92 142.20,304.83 143.20,304.74 C144.20,304.65 145.20,304.56 146.20,304.48 C147.20,304.39 148.20,304.31 149.20,304.23 C150.20,304.15 151.20,304.07 152.20,303.99 C153.20,303.91 154.20,303.83 155.20,303.76 C156.20,303.68 157.20,303.61 158.20,303.54 C159.20,303.47 160.20,303.40 161.20,303.33 C162.20,303.26 163.20,303.19 164.20,303.13 C165.20,303.06 166.20,303.00 167.20,302.94 C168.20,302.87 169.20,302.81 170.20,302.75 C171.20,302.69 172.20,302.63 173.20,302.57 C174.20,302.51 175.20,302.46 176.20,302.40 C177.20,302.35 178.20,302.29 179.20,302.24 C180.20,302.18 181.20,302.13 182.20,302.08 C183.20,302.02 184.20,301.97 185.20,301.92 C186.20,301.87 187.20,301.82 188.20,301.77 C189.20,301.72 190.20,301.67 191.20,301.63 C192.20,301.58 193.20,301.53 194.20,301.48 C195.20,301.44 196.20,301.39 197.20,301.35 C198.20,301.30 199.20,301.25 200.20,301.21 C201.20,301.16 202.20,301.12 203.20,301.07 C204.20,301.03 205.20,300.98 206.20,300.94 C207.20,300.90 208.20,300.85 209.20,300.81 C210.20,300.77 211.20,300.72 212.20,300.68 C213.20,300.64 214.20,300.59 215.20,300.55 C216.20,300.51 217.20,300.47 218.20,300.43 C219.20,300.38 220.20,300.34 221.20,300.30 C222.20,300.26 223.20,300.22 224.20,300.18 C225.20,300.14 226.20,300.10 227.20,300.06 C228.20,300.02 229.20,299.98 230.20,299.94 C231.20,299.90 232.20,299.86 233.20,299.82 C234.20,299.78 235.20,299.74 236.20,299.70 C237.20,299.66 238.20,299.63 239.20,299.59 C240.20,299.55 241.20,299.51 242.20,299.47 C243.20,299.44 244.20,299.40 245.20,299.36 C246.20,299.33 247.20,299.29 248.20,299.25 C249.20,299.22 250.20,299.18 251.20,299.14 C252.20,299.11 253.20,299.07 254.20,299.03 C255.20,299.00 256.20,298.96 257.20,298.93 C258.20,298.89 259.20,298.86 260.20,298.82 C261.20,298.79 262.20,298.75 263.20,298.72 C264.20,298.68 265.20,298.65 266.20,298.62 C267.20,298.58 268.20,298.55 269.20,298.51 C270.20,298.48 271.20,298.45 272.20,298.41 C273.20,298.38 274.20,298.35 275.20,298.31 C276.20,298.28 277.20,298.25 278.20,298.21 C279.20,298.18 280.20,298.15 281.20,298.12 C282.20,298.09 283.20,298.05 284.20,298.02 C285.20,297.99 286.20,297.96 287.20,297.93 C288.20,297.89 289.20,297.86 290.20,297.83 C291.20,297.80 292.20,297.77 293.20,297.74 C294.20,297.71 295.20,297.67 296.20,297.64 C297.20,297.61 298.20,297.58 299.20,297.55 C300.20,297.52 301.20,297.49 302.20,297.46 C303.20,297.43 304.20,297.40 305.20,297.37 C306.20,297.34 307.20,297.31 308.20,297.28 C309.20,297.25 310.20,297.22 311.20,297.19 C312.20,297.16 313.20,297.13 314.20,297.10 C315.20,297.07 316.20,297.04 317.20,297.02 C318.20,296.99 319.20,296.96 320.20,296.93 C321.20,296.90 322.20,296.87 323.20,296.84 C324.20,296.81 325.20,296.78 326.20,296.76 C327.20,296.73 328.20,296.70 329.20,296.67 C330.20,296.64 331.20,296.61 332.20,296.59 C333.20,296.56 334.20,296.53 335.20,296.50 C336.20,296.47 337.20,296.44 338.20,296.42 C339.20,296.39 340.20,296.36 341.20,296.33 C342.20,296.31 343.20,296.28 344.20,296.25 C345.20,296.22 346.20,296.19 347.20,296.17 C348.20,296.14 349.20,296.11 350.20,296.08 C351.20,296.06 352.20,296.03 353.20,296.00 C354.20,295.97 355.20,295.95 356.20,295.92 C357.20,295.89 358.20,295.86 359.20,295.84 C360.20,295.81 361.20,295.78 362.20,295.75 C363.20,295.73 364.20,295.70 365.20,295.67 C366.20,295.65 367.20,295.62 368.20,295.59 C369.20,295.56 370.20,295.54 371.20,295.51 C372.20,295.48 373.20,295.45 374.20,295.43 C375.20,295.40 376.20,295.37 377.20,295.35 C378.20,295.32 379.20,295.29 380.20,295.26 C381.20,295.24 382.20,295.21 383.20,295.18 C384.20,295.15 385.20,295.13 386.20,295.10 C387.20,295.07 388.20,295.04 389.20,295.02 C390.20,294.99 391.20,294.96 392.20,294.93 C393.20,294.91 394.20,294.88 395.20,294.85 C396.20,294.82 397.20,294.80 398.20,294.77 C399.20,294.74 400.20,294.71 401.20,294.69 C402.20,294.66 403.20,294.63 404.20,294.60 C405.20,294.57 406.20,294.55 407.20,294.52 C408.20,294.49 409.20,294.46 410.20,294.43 C411.20,294.41 412.20,294.38 413.20,294.35 C414.20,294.32 415.20,294.29 416.20,294.26 C417.20,294.24 418.20,294.21 419.20,294.18 C420.20,294.15 421.20,294.12 422.20,294.09 C423.20,294.06 424.20,294.04 425.20,294.01 C426.20,293.98 427.20,293.95 428.20,293.92 C429.20,293.89 430.20,293.86 431.20,293.83 C432.20,293.80 433.20,293.77 434.20,293.74 C435.20,293.71 436.20,293.68 437.20,293.65 C438.20,293.62 439.20,293.59 440.20,293.56 C441.20,293.53 442.20,293.50 443.20,293.47 C444.20,293.44 445.20,293.41 446.20,293.38 C447.20,293.35 448.20,293.32 449.20,293.29 C450.20,293.26 451.20,293.23 452.20,293.20 C453.20,293.17 454.20,293.13 455.20,293.10 C456.20,293.07 457.20,293.04 458.20,293.01 C459.20,292.98 460.20,292.95 461.20,292.91 C462.20,292.88 463.20,292.85 464.20,292.82 C465.20,292.78 466.20,292.75 467.20,292.72 C468.20,292.69 469.20,292.65 470.20,292.62 C471.20,292.59 472.20,292.55 473.20,292.52 C474.20,292.49 475.20,292.45 476.20,292.42 C477.20,292.39 478.20,292.35 479.20,292.32 C480.20,292.28 481.20,292.25 482.20,292.21 C483.20,292.18 484.20,292.14 485.20,292.11 C486.20,292.07 487.20,292.04 488.20,292.00 C489.20,291.97 490.32,291.93 491.20,291.90 C492.08,291.87 493.12,291.83 493.50,291.81" fill="none" stroke="#f5820a" stroke-width="1.85" stroke-linejoin="round" stroke-linecap="butt"/>
<path d="M62.20,325.40 L62.20,320.80 L62.20,321.13 C62.70,320.99 64.20,320.60 65.20,320.34 C66.20,320.08 67.20,319.82 68.20,319.57 C69.20,319.31 70.20,319.06 71.20,318.81 C72.20,318.55 73.20,318.30 74.20,318.06 C75.20,317.81 76.20,317.57 77.20,317.32 C78.20,317.08 79.20,316.84 80.20,316.60 C81.20,316.36 82.20,316.13 83.20,315.89 C84.20,315.66 85.20,315.42 86.20,315.19 C87.20,314.96 88.20,314.74 89.20,314.51 C90.20,314.29 91.20,314.06 92.20,313.84 C93.20,313.62 94.20,313.40 95.20,313.18 C96.20,312.97 97.20,312.76 98.20,312.54 C99.20,312.32 100.20,312.10 101.20,311.89 C102.20,311.67 103.20,311.46 104.20,311.25 C105.20,311.03 106.20,310.82 107.20,310.62 C108.20,310.41 109.20,310.21 110.20,310.00 C111.20,309.80 112.20,309.60 113.20,309.40 C114.20,309.21 115.20,309.01 116.20,308.82 C117.20,308.62 118.20,308.43 119.20,308.24 C120.20,308.05 121.20,307.86 122.20,307.68 C123.20,307.49 124.20,307.31 125.20,307.13 C126.20,306.95 127.20,306.77 128.20,306.59 C129.20,306.42 130.20,306.25 131.20,306.09 C132.20,305.93 133.20,305.78 134.20,305.63 C135.20,305.48 136.20,305.33 137.20,305.18 C138.20,305.03 139.20,304.89 140.20,304.74 C141.20,304.60 142.20,304.46 143.20,304.32 C144.20,304.18 145.20,304.04 146.20,303.90 C147.20,303.76 148.20,303.63 149.20,303.49 C150.20,303.36 151.20,303.22 152.20,303.09 C153.20,302.96 154.20,302.83 155.20,302.70 C156.20,302.57 157.20,302.45 158.20,302.32 C159.20,302.20 160.20,302.07 161.20,301.95 C162.20,301.83 163.20,301.71 164.20,301.59 C165.20,301.47 166.20,301.35 167.20,301.23 C168.20,301.11 169.20,301.00 170.20,300.88 C171.20,300.76 172.20,300.65 173.20,300.54 C174.20,300.42 175.20,300.31 176.20,300.20 C177.20,300.09 178.20,299.98 179.20,299.87 C180.20,299.76 181.20,299.66 182.20,299.55 C183.20,299.44 184.20,299.34 185.20,299.23 C186.20,299.13 187.20,299.02 188.20,298.92 C189.20,298.82 190.20,298.72 191.20,298.61 C192.20,298.51 193.20,298.41 194.20,298.31 C195.20,298.21 196.20,298.11 197.20,298.02 C198.20,297.92 199.20,297.82 200.20,297.72 C201.20,297.63 202.20,297.53 203.20,297.43 C204.20,297.34 205.20,297.24 206.20,297.15 C207.20,297.05 208.20,296.96 209.20,296.87 C210.20,296.77 211.20,296.68 212.20,296.59 C213.20,296.50 214.20,296.40 215.20,296.31 C216.20,296.22 217.20,296.13 218.20,296.04 C219.20,295.95 220.20,295.86 221.20,295.77 C222.20,295.69 223.20,295.60 224.20,295.51 C225.20,295.42 226.20,295.33 227.20,295.25 C228.20,295.16 229.20,295.08 230.20,294.99 C231.20,294.91 232.20,294.82 233.20,294.74 C234.20,294.65 235.20,294.57 236.20,294.48 C237.20,294.40 238.20,294.32 239.20,294.24 C240.20,294.15 241.20,294.07 242.20,293.99 C243.20,293.91 244.20,293.83 245.20,293.75 C246.20,293.67 247.20,293.59 248.20,293.51 C249.20,293.43 250.20,293.35 251.20,293.27 C252.20,293.19 253.20,293.11 254.20,293.03 C255.20,292.96 256.20,292.88 257.20,292.80 C258.20,292.73 259.20,292.65 260.20,292.57 C261.20,292.50 262.20,292.42 263.20,292.35 C264.20,292.27 265.20,292.20 266.20,292.12 C267.20,292.05 268.20,291.97 269.20,291.90 C270.20,291.82 271.20,291.75 272.20,291.68 C273.20,291.60 274.20,291.53 275.20,291.46 C276.20,291.39 277.20,291.32 278.20,291.24 C279.20,291.17 280.20,291.10 281.20,291.03 C282.20,290.96 283.20,290.89 284.20,290.82 C285.20,290.75 286.20,290.68 287.20,290.61 C288.20,290.54 289.20,290.47 290.20,290.40 C291.20,290.33 292.20,290.26 293.20,290.19 C294.20,290.12 295.20,290.05 296.20,289.99 C297.20,289.92 298.20,289.85 299.20,289.78 C300.20,289.72 301.20,289.65 302.20,289.58 C303.20,289.51 304.20,289.45 305.20,289.38 C306.20,289.31 307.20,289.25 308.20,289.18 C309.20,289.11 310.20,289.05 311.20,288.98 C312.20,288.92 313.20,288.85 314.20,288.79 C315.20,288.72 316.20,288.66 317.20,288.59 C318.20,288.53 319.20,288.46 320.20,288.40 C321.20,288.33 322.20,288.27 323.20,288.20 C324.20,288.14 325.20,288.07 326.20,288.01 C327.20,287.95 328.20,287.88 329.20,287.82 C330.20,287.75 331.20,287.69 332.20,287.63 C333.20,287.56 334.20,287.50 335.20,287.44 C336.20,287.37 337.20,287.31 338.20,287.25 C339.20,287.18 340.20,287.12 341.20,287.06 C342.20,287.00 343.20,286.93 344.20,286.87 C345.20,286.81 346.20,286.74 347.20,286.68 C348.20,286.62 349.20,286.56 350.20,286.49 C351.20,286.43 352.20,286.37 353.20,286.31 C354.20,286.25 355.20,286.18 356.20,286.12 C357.20,286.06 358.20,286.00 359.20,285.93 C360.20,285.87 361.20,285.81 362.20,285.75 C363.20,285.68 364.20,285.62 365.20,285.56 C366.20,285.50 367.20,285.44 368.20,285.37 C369.20,285.31 370.20,285.25 371.20,285.19 C372.20,285.12 373.20,285.06 374.20,285.00 C375.20,284.94 376.20,284.87 377.20,284.81 C378.20,284.75 379.20,284.69 380.20,284.62 C381.20,284.56 382.20,284.50 383.20,284.44 C384.20,284.37 385.20,284.31 386.20,284.25 C387.20,284.18 388.20,284.12 389.20,284.06 C390.20,283.99 391.20,283.93 392.20,283.87 C393.20,283.80 394.20,283.74 395.20,283.68 C396.20,283.61 397.20,283.55 398.20,283.49 C399.20,283.42 400.20,283.36 401.20,283.29 C402.20,283.23 403.20,283.16 404.20,283.10 C405.20,283.04 406.20,282.97 407.20,282.91 C408.20,282.84 409.20,282.78 410.20,282.71 C411.20,282.65 412.20,282.58 413.20,282.52 C414.20,282.45 415.20,282.38 416.20,282.32 C417.20,282.25 418.20,282.19 419.20,282.12 C420.20,282.05 421.20,281.99 422.20,281.92 C423.20,281.85 424.20,281.79 425.20,281.72 C426.20,281.65 427.20,281.58 428.20,281.51 C429.20,281.45 430.20,281.38 431.20,281.31 C432.20,281.24 433.20,281.17 434.20,281.10 C435.20,281.04 436.20,280.97 437.20,280.90 C438.20,280.83 439.20,280.76 440.20,280.69 C441.20,280.62 442.20,280.55 443.20,280.48 C444.20,280.41 445.20,280.33 446.20,280.26 C447.20,280.19 448.20,280.12 449.20,280.05 C450.20,279.98 451.20,279.90 452.20,279.83 C453.20,279.76 454.20,279.68 455.20,279.61 C456.20,279.54 457.20,279.46 458.20,279.39 C459.20,279.32 460.20,279.24 461.20,279.17 C462.20,279.09 463.20,279.02 464.20,278.94 C465.20,278.86 466.20,278.79 467.20,278.71 C468.20,278.63 469.20,278.56 470.20,278.48 C471.20,278.40 472.20,278.32 473.20,278.25 C474.20,278.17 475.20,278.09 476.20,278.01 C477.20,277.93 478.20,277.85 479.20,277.77 C480.20,277.69 481.20,277.61 482.20,277.53 C483.20,277.45 484.20,277.37 485.20,277.29 C486.20,277.20 487.20,277.12 488.20,277.04 C489.20,276.96 490.32,276.86 491.20,276.79 C492.08,276.71 493.12,276.63 493.50,276.59" fill="none" stroke="#501464" stroke-width="1.85" stroke-linejoin="round" stroke-linecap="butt"/>
<path d="M62.20,325.40 L62.20,323.20 L62.20,323.19 C62.70,323.08 64.20,322.75 65.20,322.52 C66.20,322.30 67.20,322.07 68.20,321.84 C69.20,321.61 70.20,321.38 71.20,321.15 C72.20,320.92 73.20,320.68 74.20,320.44 C75.20,320.21 76.20,319.97 77.20,319.73 C78.20,319.49 79.20,319.25 80.20,319.01 C81.20,318.77 82.20,318.53 83.20,318.29 C84.20,318.05 85.20,317.80 86.20,317.56 C87.20,317.32 88.20,317.07 89.20,316.83 C90.20,316.59 91.20,316.34 92.20,316.10 C93.20,315.86 94.20,315.61 95.20,315.37 C96.20,315.13 97.20,314.89 98.20,314.65 C99.20,314.40 100.20,314.15 101.20,313.90 C102.20,313.66 103.20,313.41 104.20,313.17 C105.20,312.92 106.20,312.68 107.20,312.44 C108.20,312.20 109.20,311.96 110.20,311.73 C111.20,311.49 112.20,311.25 113.20,311.02 C114.20,310.79 115.20,310.56 116.20,310.33 C117.20,310.10 118.20,309.88 119.20,309.65 C120.20,309.43 121.20,309.21 122.20,308.99 C123.20,308.77 124.20,308.55 125.20,308.34 C126.20,308.12 127.20,307.91 128.20,307.70 C129.20,307.49 130.20,307.29 131.20,307.09 C132.20,306.90 133.20,306.72 134.20,306.53 C135.20,306.35 136.20,306.17 137.20,305.98 C138.20,305.80 139.20,305.62 140.20,305.45 C141.20,305.27 142.20,305.09 143.20,304.92 C144.20,304.75 145.20,304.57 146.20,304.40 C147.20,304.23 148.20,304.06 149.20,303.90 C150.20,303.73 151.20,303.56 152.20,303.40 C153.20,303.24 154.20,303.07 155.20,302.91 C156.20,302.75 157.20,302.59 158.20,302.43 C159.20,302.28 160.20,302.12 161.20,301.96 C162.20,301.81 163.20,301.66 164.20,301.50 C165.20,301.35 166.20,301.20 167.20,301.05 C168.20,300.90 169.20,300.76 170.20,300.61 C171.20,300.46 172.20,300.32 173.20,300.17 C174.20,300.03 175.20,299.89 176.20,299.74 C177.20,299.60 178.20,299.46 179.20,299.32 C180.20,299.18 181.20,299.05 182.20,298.91 C183.20,298.77 184.20,298.64 185.20,298.50 C186.20,298.37 187.20,298.23 188.20,298.10 C189.20,297.97 190.20,297.83 191.20,297.70 C192.20,297.57 193.20,297.44 194.20,297.31 C195.20,297.19 196.20,297.06 197.20,296.93 C198.20,296.80 199.20,296.68 200.20,296.55 C201.20,296.43 202.20,296.30 203.20,296.18 C204.20,296.05 205.20,295.93 206.20,295.81 C207.20,295.69 208.20,295.56 209.20,295.44 C210.20,295.32 211.20,295.20 212.20,295.08 C213.20,294.96 214.20,294.85 215.20,294.73 C216.20,294.61 217.20,294.49 218.20,294.38 C219.20,294.26 220.20,294.15 221.20,294.03 C222.20,293.92 223.20,293.80 224.20,293.69 C225.20,293.58 226.20,293.47 227.20,293.35 C228.20,293.24 229.20,293.13 230.20,293.02 C231.20,292.91 232.20,292.80 233.20,292.69 C234.20,292.58 235.20,292.48 236.20,292.37 C237.20,292.26 238.20,292.15 239.20,292.05 C240.20,291.94 241.20,291.84 242.20,291.73 C243.20,291.63 244.20,291.52 245.20,291.42 C246.20,291.32 247.20,291.21 248.20,291.11 C249.20,291.01 250.20,290.91 251.20,290.81 C252.20,290.71 253.20,290.61 254.20,290.51 C255.20,290.41 256.20,290.31 257.20,290.21 C258.20,290.11 259.20,290.01 260.20,289.92 C261.20,289.82 262.20,289.72 263.20,289.63 C264.20,289.53 265.20,289.44 266.20,289.34 C267.20,289.25 268.20,289.15 269.20,289.06 C270.20,288.97 271.20,288.87 272.20,288.78 C273.20,288.69 274.20,288.60 275.20,288.50 C276.20,288.41 277.20,288.32 278.20,288.23 C279.20,288.14 280.20,288.05 281.20,287.96 C282.20,287.87 283.20,287.78 284.20,287.70 C285.20,287.61 286.20,287.52 287.20,287.43 C288.20,287.34 289.20,287.26 290.20,287.17 C291.20,287.08 292.20,287.00 293.20,286.91 C294.20,286.83 295.20,286.74 296.20,286.66 C297.20,286.57 298.20,286.49 299.20,286.41 C300.20,286.32 301.20,286.24 302.20,286.16 C303.20,286.08 304.20,285.99 305.20,285.91 C306.20,285.83 307.20,285.75 308.20,285.67 C309.20,285.59 310.20,285.51 311.20,285.43 C312.20,285.35 313.20,285.27 314.20,285.19 C315.20,285.11 316.20,285.03 317.20,284.95 C318.20,284.87 319.20,284.79 320.20,284.72 C321.20,284.64 322.20,284.56 323.20,284.48 C324.20,284.41 325.20,284.33 326.20,284.26 C327.20,284.18 328.20,284.10 329.20,284.03 C330.20,283.95 331.20,283.88 332.20,283.80 C333.20,283.73 334.20,283.65 335.20,283.58 C336.20,283.50 337.20,283.43 338.20,283.36 C339.20,283.28 340.20,283.21 341.20,283.14 C342.20,283.06 343.20,282.99 344.20,282.92 C345.20,282.85 346.20,282.77 347.20,282.70 C348.20,282.63 349.20,282.56 350.20,282.49 C351.20,282.42 352.20,282.35 353.20,282.27 C354.20,282.20 355.20,282.13 356.20,282.06 C357.20,281.99 358.20,281.92 359.20,281.85 C360.20,281.78 361.20,281.71 362.20,281.64 C363.20,281.57 364.20,281.51 365.20,281.44 C366.20,281.37 367.20,281.30 368.20,281.23 C369.20,281.16 370.20,281.09 371.20,281.02 C372.20,280.96 373.20,280.89 374.20,280.82 C375.20,280.75 376.20,280.69 377.20,280.62 C378.20,280.55 379.20,280.48 380.20,280.42 C381.20,280.35 382.20,280.28 383.20,280.21 C384.20,280.15 385.20,280.08 386.20,280.01 C387.20,279.95 388.20,279.88 389.20,279.82 C390.20,279.75 391.20,279.68 392.20,279.62 C393.20,279.55 394.20,279.48 395.20,279.42 C396.20,279.35 397.20,279.29 398.20,279.22 C399.20,279.16 400.20,279.09 401.20,279.02 C402.20,278.96 403.20,278.89 404.20,278.83 C405.20,278.76 406.20,278.70 407.20,278.63 C408.20,278.57 409.20,278.50 410.20,278.44 C411.20,278.37 412.20,278.31 413.20,278.24 C414.20,278.18 415.20,278.11 416.20,278.05 C417.20,277.98 418.20,277.91 419.20,277.85 C420.20,277.78 421.20,277.72 422.20,277.65 C423.20,277.59 424.20,277.52 425.20,277.46 C426.20,277.39 427.20,277.33 428.20,277.26 C429.20,277.20 430.20,277.13 431.20,277.07 C432.20,277.00 433.20,276.94 434.20,276.87 C435.20,276.81 436.20,276.74 437.20,276.68 C438.20,276.61 439.20,276.55 440.20,276.48 C441.20,276.42 442.20,276.35 443.20,276.28 C444.20,276.22 445.20,276.15 446.20,276.09 C447.20,276.02 448.20,275.96 449.20,275.89 C450.20,275.82 451.20,275.76 452.20,275.69 C453.20,275.62 454.20,275.56 455.20,275.49 C456.20,275.43 457.20,275.36 458.20,275.29 C459.20,275.23 460.20,275.16 461.20,275.09 C462.20,275.02 463.20,274.96 464.20,274.89 C465.20,274.82 466.20,274.75 467.20,274.69 C468.20,274.62 469.20,274.55 470.20,274.48 C471.20,274.42 472.20,274.35 473.20,274.28 C474.20,274.21 475.20,274.14 476.20,274.07 C477.20,274.00 478.20,273.94 479.20,273.87 C480.20,273.80 481.20,273.73 482.20,273.66 C483.20,273.59 484.20,273.52 485.20,273.45 C486.20,273.38 487.20,273.31 488.20,273.24 C489.20,273.17 490.32,273.09 491.20,273.02 C492.08,272.96 493.12,272.89 493.50,272.86" fill="none" stroke="#33b43c" stroke-width="1.85" stroke-linejoin="round" stroke-linecap="butt"/>
<path d="M62.20,325.40 L62.20,319.90 L62.20,320.04 C62.70,319.80 64.20,319.11 65.20,318.64 C66.20,318.17 67.20,317.68 68.20,317.20 C69.20,316.71 70.20,316.22 71.20,315.72 C72.20,315.22 73.20,314.71 74.20,314.20 C75.20,313.69 76.20,313.18 77.20,312.66 C78.20,312.14 79.20,311.62 80.20,311.09 C81.20,310.57 82.20,310.04 83.20,309.51 C84.20,308.98 85.20,308.45 86.20,307.91 C87.20,307.38 88.20,306.84 89.20,306.30 C90.20,305.77 91.20,305.23 92.20,304.69 C93.20,304.15 94.20,303.62 95.20,303.08 C96.20,302.54 97.20,302.01 98.20,301.47 C99.20,300.93 100.20,300.39 101.20,299.85 C102.20,299.31 103.20,298.78 104.20,298.24 C105.20,297.71 106.20,297.17 107.20,296.64 C108.20,296.11 109.20,295.58 110.20,295.06 C111.20,294.53 112.20,294.01 113.20,293.49 C114.20,292.97 115.20,292.45 116.20,291.94 C117.20,291.43 118.20,290.92 119.20,290.41 C120.20,289.91 121.20,289.40 122.20,288.91 C123.20,288.41 124.20,287.91 125.20,287.42 C126.20,286.94 127.20,286.45 128.20,285.97 C129.20,285.49 130.20,285.03 131.20,284.57 C132.20,284.11 133.20,283.67 134.20,283.23 C135.20,282.79 136.20,282.36 137.20,281.92 C138.20,281.49 139.20,281.07 140.20,280.65 C141.20,280.23 142.20,279.81 143.20,279.40 C144.20,278.99 145.20,278.59 146.20,278.18 C147.20,277.78 148.20,277.39 149.20,276.99 C150.20,276.60 151.20,276.22 152.20,275.83 C153.20,275.45 154.20,275.07 155.20,274.70 C156.20,274.32 157.20,273.95 158.20,273.59 C159.20,273.22 160.20,272.86 161.20,272.51 C162.20,272.15 163.20,271.80 164.20,271.45 C165.20,271.10 166.20,270.75 167.20,270.41 C168.20,270.07 169.20,269.73 170.20,269.40 C171.20,269.07 172.20,268.74 173.20,268.41 C174.20,268.09 175.20,267.77 176.20,267.45 C177.20,267.13 178.20,266.81 179.20,266.50 C180.20,266.19 181.20,265.88 182.20,265.58 C183.20,265.27 184.20,264.97 185.20,264.67 C186.20,264.38 187.20,264.08 188.20,263.79 C189.20,263.50 190.20,263.21 191.20,262.92 C192.20,262.64 193.20,262.36 194.20,262.08 C195.20,261.80 196.20,261.52 197.20,261.25 C198.20,260.97 199.20,260.70 200.20,260.43 C201.20,260.16 202.20,259.90 203.20,259.63 C204.20,259.37 205.20,259.11 206.20,258.85 C207.20,258.59 208.20,258.34 209.20,258.08 C210.20,257.83 211.20,257.58 212.20,257.33 C213.20,257.08 214.20,256.83 215.20,256.59 C216.20,256.34 217.20,256.10 218.20,255.86 C219.20,255.62 220.20,255.38 221.20,255.14 C222.20,254.91 223.20,254.67 224.20,254.44 C225.20,254.20 226.20,253.97 227.20,253.74 C228.20,253.51 229.20,253.28 230.20,253.06 C231.20,252.83 232.20,252.61 233.20,252.38 C234.20,252.16 235.20,251.94 236.20,251.72 C237.20,251.49 238.20,251.27 239.20,251.06 C240.20,250.84 241.20,250.62 242.20,250.41 C243.20,250.19 244.20,249.98 245.20,249.77 C246.20,249.55 247.20,249.34 248.20,249.13 C249.20,248.92 250.20,248.72 251.20,248.51 C252.20,248.30 253.20,248.10 254.20,247.89 C255.20,247.69 256.20,247.49 257.20,247.29 C258.20,247.08 259.20,246.88 260.20,246.69 C261.20,246.49 262.20,246.29 263.20,246.09 C264.20,245.90 265.20,245.70 266.20,245.51 C267.20,245.32 268.20,245.13 269.20,244.94 C270.20,244.75 271.20,244.56 272.20,244.37 C273.20,244.18 274.20,243.99 275.20,243.81 C276.20,243.62 277.20,243.44 278.20,243.26 C279.20,243.08 280.20,242.89 281.20,242.71 C282.20,242.53 283.20,242.36 284.20,242.18 C285.20,242.00 286.20,241.83 287.20,241.65 C288.20,241.48 289.20,241.30 290.20,241.13 C291.20,240.96 292.20,240.79 293.20,240.62 C294.20,240.45 295.20,240.28 296.20,240.11 C297.20,239.94 298.20,239.78 299.20,239.61 C300.20,239.45 301.20,239.29 302.20,239.12 C303.20,238.96 304.20,238.80 305.20,238.64 C306.20,238.48 307.20,238.32 308.20,238.16 C309.20,238.01 310.20,237.85 311.20,237.69 C312.20,237.54 313.20,237.39 314.20,237.23 C315.20,237.08 316.20,236.93 317.20,236.78 C318.20,236.63 319.20,236.48 320.20,236.33 C321.20,236.18 322.20,236.04 323.20,235.89 C324.20,235.74 325.20,235.60 326.20,235.46 C327.20,235.31 328.20,235.17 329.20,235.03 C330.20,234.89 331.20,234.75 332.20,234.61 C333.20,234.47 334.20,234.33 335.20,234.20 C336.20,234.06 337.20,233.92 338.20,233.79 C339.20,233.65 340.20,233.52 341.20,233.39 C342.20,233.26 343.20,233.13 344.20,233.00 C345.20,232.86 346.20,232.74 347.20,232.61 C348.20,232.48 349.20,232.35 350.20,232.23 C351.20,232.10 352.20,231.98 353.20,231.85 C354.20,231.73 355.20,231.61 356.20,231.48 C357.20,231.36 358.20,231.24 359.20,231.12 C360.20,231.00 361.20,230.88 362.20,230.77 C363.20,230.65 364.20,230.53 365.20,230.42 C366.20,230.30 367.20,230.19 368.20,230.07 C369.20,229.96 370.20,229.85 371.20,229.74 C372.20,229.62 373.20,229.51 374.20,229.40 C375.20,229.29 376.20,229.19 377.20,229.08 C378.20,228.97 379.20,228.86 380.20,228.76 C381.20,228.65 382.20,228.55 383.20,228.44 C384.20,228.34 385.20,228.24 386.20,228.14 C387.20,228.03 388.20,227.93 389.20,227.83 C390.20,227.73 391.20,227.63 392.20,227.53 C393.20,227.44 394.20,227.34 395.20,227.24 C396.20,227.15 397.20,227.05 398.20,226.96 C399.20,226.86 400.20,226.77 401.20,226.68 C402.20,226.58 403.20,226.49 404.20,226.40 C405.20,226.31 406.20,226.22 407.20,226.13 C408.20,226.04 409.20,225.95 410.20,225.86 C411.20,225.78 412.20,225.69 413.20,225.60 C414.20,225.52 415.20,225.43 416.20,225.35 C417.20,225.26 418.20,225.18 419.20,225.10 C420.20,225.02 421.20,224.93 422.20,224.85 C423.20,224.77 424.20,224.69 425.20,224.61 C426.20,224.53 427.20,224.45 428.20,224.38 C429.20,224.30 430.20,224.22 431.20,224.15 C432.20,224.07 433.20,223.99 434.20,223.92 C435.20,223.85 436.20,223.77 437.20,223.70 C438.20,223.63 439.20,223.55 440.20,223.48 C441.20,223.41 442.20,223.34 443.20,223.27 C444.20,223.20 445.20,223.13 446.20,223.06 C447.20,222.99 448.20,222.93 449.20,222.86 C450.20,222.79 451.20,222.73 452.20,222.66 C453.20,222.59 454.20,222.53 455.20,222.46 C456.20,222.40 457.20,222.34 458.20,222.27 C459.20,222.21 460.20,222.15 461.20,222.09 C462.20,222.03 463.20,221.97 464.20,221.91 C465.20,221.85 466.20,221.79 467.20,221.73 C468.20,221.67 469.20,221.61 470.20,221.55 C471.20,221.50 472.20,221.44 473.20,221.38 C474.20,221.33 475.20,221.27 476.20,221.22 C477.20,221.16 478.20,221.11 479.20,221.05 C480.20,221.00 481.20,220.95 482.20,220.89 C483.20,220.84 484.20,220.79 485.20,220.74 C486.20,220.69 487.20,220.64 488.20,220.59 C489.20,220.54 490.32,220.48 491.20,220.44 C492.08,220.40 493.12,220.35 493.50,220.33" fill="none" stroke="#c8102e" stroke-width="1.85" stroke-linejoin="round" stroke-linecap="butt"/>
<path d="M62.20,325.40 L62.20,310.60 L76.80,300.50 L76.80,300.50 C78.47,299.98 83.60,298.32 86.80,297.40 C90.00,296.48 92.13,295.82 96.00,295.00 C99.87,294.18 106.33,293.17 110.00,292.50 C113.67,291.83 113.83,291.72 118.00,291.00 C122.17,290.28 129.67,289.00 135.00,288.20 C140.33,287.40 144.50,286.82 150.00,286.20 C155.50,285.58 159.67,285.15 168.00,284.50 C176.33,283.85 189.33,282.97 200.00,282.30 C210.67,281.63 221.17,281.10 232.00,280.50 C242.83,279.90 254.00,279.28 265.00,278.70 C276.00,278.12 287.17,277.53 298.00,277.00 C308.83,276.47 319.33,276.00 330.00,275.50 C340.67,275.00 351.17,274.48 362.00,274.00 C372.83,273.52 384.00,273.03 395.00,272.60 C406.00,272.17 417.17,271.80 428.00,271.40 C438.83,271.00 449.08,270.60 460.00,270.20 C470.92,269.80 487.92,269.20 493.50,269.00" fill="none" stroke="#003d7a" stroke-width="1.85" stroke-linejoin="round" stroke-linecap="butt"/>
<path d="M61.00,693.90 L61.00,685.80 L61.00,685.59 C61.42,685.44 62.67,684.98 63.50,684.68 C64.33,684.38 65.17,684.09 66.00,683.81 C66.83,683.52 67.67,683.25 68.50,682.97 C69.33,682.70 70.17,682.44 71.00,682.18 C71.83,681.92 72.67,681.66 73.50,681.41 C74.33,681.16 75.17,680.91 76.00,680.67 C76.83,680.43 77.67,680.19 78.50,679.96 C79.33,679.72 80.17,679.49 81.00,679.26 C81.83,679.03 82.67,678.81 83.50,678.59 C84.33,678.36 85.17,678.14 86.00,677.92 C86.83,677.70 87.67,677.49 88.50,677.27 C89.33,677.06 90.17,676.84 91.00,676.63 C91.83,676.42 92.67,676.21 93.50,676.00 C94.33,675.79 95.17,675.58 96.00,675.38 C96.83,675.17 97.67,674.96 98.50,674.76 C99.33,674.55 100.17,674.35 101.00,674.14 C101.83,673.94 102.67,673.73 103.50,673.53 C104.33,673.32 105.17,673.12 106.00,672.92 C106.83,672.72 107.67,672.52 108.50,672.32 C109.33,672.12 110.17,671.92 111.00,671.73 C111.83,671.54 112.67,671.34 113.50,671.15 C114.33,670.97 115.17,670.78 116.00,670.60 C116.83,670.41 117.67,670.24 118.50,670.06 C119.33,669.88 120.17,669.71 121.00,669.55 C121.83,669.38 122.67,669.21 123.50,669.06 C124.33,668.90 125.17,668.74 126.00,668.59 C126.83,668.44 127.67,668.29 128.50,668.14 C129.33,668.00 130.17,667.86 131.00,667.72 C131.83,667.58 132.67,667.45 133.50,667.32 C134.33,667.19 135.17,667.06 136.00,666.94 C136.83,666.81 137.67,666.69 138.50,666.57 C139.33,666.45 140.17,666.34 141.00,666.23 C141.83,666.11 142.67,666.00 143.50,665.90 C144.33,665.79 145.17,665.69 146.00,665.58 C146.83,665.48 147.67,665.38 148.50,665.29 C149.33,665.19 150.17,665.09 151.00,665.00 C151.83,664.91 152.67,664.82 153.50,664.73 C154.33,664.64 155.17,664.56 156.00,664.47 C156.83,664.39 157.67,664.30 158.50,664.22 C159.33,664.14 160.17,664.06 161.00,663.99 C161.83,663.91 162.67,663.83 163.50,663.76 C164.33,663.68 165.17,663.61 166.00,663.54 C166.83,663.47 167.67,663.40 168.50,663.33 C169.33,663.26 170.17,663.19 171.00,663.12 C171.83,663.05 172.67,662.99 173.50,662.92 C174.33,662.85 175.17,662.79 176.00,662.72 C176.83,662.66 177.67,662.59 178.50,662.53 C179.33,662.47 180.17,662.40 181.00,662.34 C181.83,662.28 182.67,662.22 183.50,662.15 C184.33,662.09 185.17,662.03 186.00,661.97 C186.83,661.91 187.67,661.84 188.50,661.78 C189.33,661.72 190.17,661.66 191.00,661.60 C191.83,661.54 192.67,661.48 193.50,661.42 C194.33,661.36 195.17,661.30 196.00,661.24 C196.83,661.18 197.67,661.11 198.50,661.05 C199.33,660.99 200.17,660.93 201.00,660.87 C201.83,660.81 202.67,660.75 203.50,660.69 C204.33,660.63 205.17,660.57 206.00,660.51 C206.83,660.45 207.67,660.39 208.50,660.33 C209.33,660.27 210.17,660.21 211.00,660.15 C211.83,660.09 212.67,660.03 213.50,659.97 C214.33,659.91 215.17,659.85 216.00,659.79 C216.83,659.73 217.67,659.67 218.50,659.61 C219.33,659.55 220.17,659.48 221.00,659.42 C221.83,659.36 222.67,659.30 223.50,659.24 C224.33,659.18 225.17,659.11 226.00,659.05 C226.83,658.99 227.67,658.93 228.50,658.87 C229.33,658.80 230.17,658.74 231.00,658.68 C231.83,658.61 232.67,658.55 233.50,658.49 C234.33,658.42 235.17,658.36 236.00,658.29 C236.83,658.23 237.67,658.16 238.50,658.10 C239.33,658.03 240.17,657.97 241.00,657.90 C241.83,657.84 242.67,657.77 243.50,657.70 C244.33,657.64 245.17,657.57 246.00,657.50 C246.83,657.43 247.67,657.36 248.50,657.30 C249.33,657.23 250.17,657.16 251.00,657.09 C251.83,657.02 252.67,656.95 253.50,656.88 C254.33,656.81 255.17,656.74 256.00,656.67 C256.83,656.60 257.67,656.53 258.50,656.45 C259.33,656.38 260.17,656.31 261.00,656.24 C261.83,656.17 262.67,656.09 263.50,656.02 C264.33,655.95 265.17,655.88 266.00,655.80 C266.83,655.73 267.67,655.66 268.50,655.58 C269.33,655.51 270.17,655.43 271.00,655.36 C271.83,655.28 272.67,655.21 273.50,655.14 C274.33,655.06 275.17,654.99 276.00,654.91 C276.83,654.83 277.67,654.76 278.50,654.68 C279.33,654.61 280.17,654.53 281.00,654.46 C281.83,654.38 282.67,654.30 283.50,654.23 C284.33,654.15 285.17,654.07 286.00,654.00 C286.83,653.92 287.67,653.84 288.50,653.77 C289.33,653.69 290.17,653.61 291.00,653.53 C291.83,653.46 292.67,653.38 293.50,653.30 C294.33,653.22 295.17,653.15 296.00,653.07 C296.83,652.99 297.67,652.91 298.50,652.84 C299.33,652.76 300.17,652.68 301.00,652.60 C301.83,652.52 302.67,652.45 303.50,652.37 C304.33,652.29 305.17,652.21 306.00,652.13 C306.83,652.06 307.67,651.98 308.50,651.90 C309.33,651.82 310.17,651.74 311.00,651.67 C311.83,651.59 312.67,651.51 313.50,651.43 C314.33,651.35 315.17,651.28 316.00,651.20 C316.83,651.12 317.67,651.04 318.50,650.97 C319.33,650.89 320.17,650.81 321.00,650.73 C321.83,650.65 322.67,650.58 323.50,650.50 C324.33,650.42 325.17,650.34 326.00,650.27 C326.83,650.19 327.67,650.11 328.50,650.04 C329.33,649.96 330.17,649.88 331.00,649.81 C331.83,649.73 332.67,649.65 333.50,649.58 C334.33,649.50 335.17,649.42 336.00,649.35 C336.83,649.27 337.67,649.20 338.50,649.12 C339.33,649.05 340.17,648.97 341.00,648.90 C341.83,648.82 342.67,648.75 343.50,648.67 C344.33,648.60 345.17,648.52 346.00,648.45 C346.83,648.37 347.67,648.30 348.50,648.23 C349.33,648.15 350.17,648.08 351.00,648.01 C351.83,647.93 352.67,647.86 353.50,647.79 C354.33,647.72 355.17,647.64 356.00,647.57 C356.83,647.50 357.67,647.43 358.50,647.36 C359.33,647.29 360.17,647.21 361.00,647.14 C361.83,647.07 362.67,647.00 363.50,646.93 C364.33,646.86 365.17,646.79 366.00,646.72 C366.83,646.65 367.67,646.58 368.50,646.51 C369.33,646.44 370.17,646.37 371.00,646.31 C371.83,646.24 372.67,646.17 373.50,646.10 C374.33,646.03 375.17,645.96 376.00,645.90 C376.83,645.83 377.67,645.76 378.50,645.69 C379.33,645.63 380.17,645.56 381.00,645.49 C381.83,645.43 382.67,645.36 383.50,645.29 C384.33,645.23 385.17,645.16 386.00,645.10 C386.83,645.03 387.67,644.96 388.50,644.90 C389.33,644.83 390.17,644.77 391.00,644.70 C391.83,644.64 392.67,644.57 393.50,644.51 C394.33,644.45 395.17,644.38 396.00,644.32 C396.83,644.25 397.67,644.19 398.50,644.13 C399.33,644.06 400.17,644.00 401.00,643.94 C401.83,643.88 402.67,643.81 403.50,643.75 C404.33,643.69 405.17,643.63 406.00,643.56 C406.83,643.50 407.67,643.44 408.50,643.38 C409.33,643.32 410.17,643.26 411.00,643.19 C411.83,643.13 412.67,643.07 413.50,643.01 C414.33,642.95 415.17,642.89 416.00,642.83 C416.83,642.77 417.67,642.71 418.50,642.65 C419.33,642.59 420.17,642.53 421.00,642.47 C421.83,642.41 422.67,642.35 423.50,642.29 C424.33,642.23 425.17,642.18 426.00,642.12 C426.83,642.06 427.67,642.00 428.50,641.94 C429.33,641.88 430.17,641.83 431.00,641.77 C431.83,641.71 432.67,641.65 433.50,641.59 C434.33,641.54 435.17,641.48 436.00,641.42 C436.83,641.37 437.67,641.31 438.50,641.25 C439.33,641.20 440.17,641.14 441.00,641.08 C441.83,641.03 442.67,640.97 443.50,640.91 C444.33,640.86 445.17,640.80 446.00,640.75 C446.83,640.69 447.67,640.64 448.50,640.58 C449.33,640.53 450.17,640.47 451.00,640.42 C451.83,640.36 452.67,640.31 453.50,640.25 C454.33,640.20 455.17,640.14 456.00,640.09 C456.83,640.04 457.67,639.98 458.50,639.93 C459.33,639.87 460.17,639.82 461.00,639.77 C461.83,639.71 462.67,639.66 463.50,639.61 C464.33,639.55 465.17,639.50 466.00,639.45 C466.83,639.40 467.67,639.34 468.50,639.29 C469.33,639.24 470.17,639.19 471.00,639.13 C471.83,639.08 472.67,639.03 473.50,638.98 C474.33,638.93 475.17,638.87 476.00,638.82 C476.83,638.77 477.67,638.72 478.50,638.67 C479.33,638.62 480.17,638.57 481.00,638.51 C481.83,638.46 482.67,638.41 483.50,638.36 C484.33,638.31 485.17,638.26 486.00,638.21 C486.83,638.16 487.67,638.11 488.50,638.06 C489.33,638.01 490.17,637.96 491.00,637.91 C491.83,637.86 493.05,637.79 493.50,637.76 C493.95,637.73 493.67,637.75 493.70,637.75" fill="none" stroke="#7a70bb" stroke-width="1.85" stroke-linejoin="round" stroke-linecap="butt"/>
<path d="M61.00,693.90 L61.00,674.00 L61.00,673.59 C61.42,673.19 62.67,671.98 63.50,671.20 C64.33,670.41 65.17,669.64 66.00,668.88 C66.83,668.13 67.67,667.38 68.50,666.65 C69.33,665.91 70.17,665.19 71.00,664.49 C71.83,663.78 72.67,663.09 73.50,662.41 C74.33,661.73 75.17,661.06 76.00,660.41 C76.83,659.76 77.67,659.12 78.50,658.50 C79.33,657.87 80.17,657.26 81.00,656.67 C81.83,656.07 82.67,655.49 83.50,654.93 C84.33,654.36 85.17,653.81 86.00,653.27 C86.83,652.73 87.67,652.21 88.50,651.70 C89.33,651.20 90.17,650.70 91.00,650.22 C91.83,649.74 92.67,649.27 93.50,648.81 C94.33,648.36 95.17,647.91 96.00,647.48 C96.83,647.04 97.67,646.62 98.50,646.20 C99.33,645.78 100.17,645.37 101.00,644.97 C101.83,644.57 102.67,644.17 103.50,643.79 C104.33,643.40 105.17,643.01 106.00,642.64 C106.83,642.26 107.67,641.88 108.50,641.51 C109.33,641.14 110.17,640.78 111.00,640.42 C111.83,640.06 112.67,639.70 113.50,639.35 C114.33,638.99 115.17,638.64 116.00,638.30 C116.83,637.95 117.67,637.61 118.50,637.28 C119.33,636.94 120.17,636.61 121.00,636.28 C121.83,635.95 122.67,635.63 123.50,635.31 C124.33,634.99 125.17,634.67 126.00,634.36 C126.83,634.04 127.67,633.74 128.50,633.43 C129.33,633.13 130.17,632.82 131.00,632.53 C131.83,632.23 132.67,631.94 133.50,631.65 C134.33,631.36 135.17,631.07 136.00,630.79 C136.83,630.51 137.67,630.23 138.50,629.96 C139.33,629.68 140.17,629.41 141.00,629.14 C141.83,628.88 142.67,628.61 143.50,628.35 C144.33,628.09 145.17,627.84 146.00,627.58 C146.83,627.33 147.67,627.08 148.50,626.84 C149.33,626.59 150.17,626.35 151.00,626.11 C151.83,625.87 152.67,625.64 153.50,625.40 C154.33,625.17 155.17,624.94 156.00,624.72 C156.83,624.49 157.67,624.27 158.50,624.05 C159.33,623.83 160.17,623.62 161.00,623.41 C161.83,623.19 162.67,622.99 163.50,622.78 C164.33,622.57 165.17,622.37 166.00,622.17 C166.83,621.97 167.67,621.77 168.50,621.58 C169.33,621.39 170.17,621.19 171.00,621.01 C171.83,620.82 172.67,620.63 173.50,620.45 C174.33,620.27 175.17,620.09 176.00,619.91 C176.83,619.73 177.67,619.56 178.50,619.38 C179.33,619.21 180.17,619.04 181.00,618.87 C181.83,618.70 182.67,618.54 183.50,618.38 C184.33,618.21 185.17,618.05 186.00,617.89 C186.83,617.73 187.67,617.58 188.50,617.42 C189.33,617.27 190.17,617.12 191.00,616.97 C191.83,616.82 192.67,616.67 193.50,616.52 C194.33,616.38 195.17,616.23 196.00,616.09 C196.83,615.95 197.67,615.81 198.50,615.67 C199.33,615.53 200.17,615.39 201.00,615.26 C201.83,615.12 202.67,614.99 203.50,614.85 C204.33,614.72 205.17,614.59 206.00,614.46 C206.83,614.33 207.67,614.20 208.50,614.08 C209.33,613.95 210.17,613.82 211.00,613.70 C211.83,613.58 212.67,613.45 213.50,613.33 C214.33,613.21 215.17,613.09 216.00,612.97 C216.83,612.85 217.67,612.73 218.50,612.62 C219.33,612.50 220.17,612.38 221.00,612.27 C221.83,612.15 222.67,612.04 223.50,611.93 C224.33,611.81 225.17,611.70 226.00,611.59 C226.83,611.48 227.67,611.37 228.50,611.26 C229.33,611.15 230.17,611.04 231.00,610.94 C231.83,610.83 232.67,610.72 233.50,610.62 C234.33,610.51 235.17,610.41 236.00,610.30 C236.83,610.20 237.67,610.10 238.50,610.00 C239.33,609.89 240.17,609.79 241.00,609.69 C241.83,609.59 242.67,609.49 243.50,609.39 C244.33,609.29 245.17,609.19 246.00,609.10 C246.83,609.00 247.67,608.90 248.50,608.81 C249.33,608.71 250.17,608.61 251.00,608.52 C251.83,608.42 252.67,608.33 253.50,608.24 C254.33,608.14 255.17,608.05 256.00,607.95 C256.83,607.86 257.67,607.77 258.50,607.68 C259.33,607.59 260.17,607.49 261.00,607.40 C261.83,607.31 262.67,607.22 263.50,607.13 C264.33,607.04 265.17,606.95 266.00,606.86 C266.83,606.77 267.67,606.68 268.50,606.59 C269.33,606.50 270.17,606.42 271.00,606.33 C271.83,606.24 272.67,606.15 273.50,606.06 C274.33,605.98 275.17,605.89 276.00,605.80 C276.83,605.71 277.67,605.63 278.50,605.54 C279.33,605.45 280.17,605.37 281.00,605.28 C281.83,605.20 282.67,605.11 283.50,605.02 C284.33,604.94 285.17,604.85 286.00,604.77 C286.83,604.68 287.67,604.60 288.50,604.51 C289.33,604.43 290.17,604.34 291.00,604.26 C291.83,604.18 292.67,604.09 293.50,604.01 C294.33,603.93 295.17,603.84 296.00,603.76 C296.83,603.68 297.67,603.59 298.50,603.51 C299.33,603.43 300.17,603.35 301.00,603.27 C301.83,603.18 302.67,603.10 303.50,603.02 C304.33,602.94 305.17,602.86 306.00,602.78 C306.83,602.70 307.67,602.62 308.50,602.54 C309.33,602.46 310.17,602.38 311.00,602.30 C311.83,602.22 312.67,602.14 313.50,602.06 C314.33,601.98 315.17,601.90 316.00,601.82 C316.83,601.74 317.67,601.66 318.50,601.59 C319.33,601.51 320.17,601.43 321.00,601.35 C321.83,601.28 322.67,601.20 323.50,601.12 C324.33,601.05 325.17,600.97 326.00,600.89 C326.83,600.82 327.67,600.74 328.50,600.66 C329.33,600.59 330.17,600.51 331.00,600.44 C331.83,600.36 332.67,600.29 333.50,600.21 C334.33,600.14 335.17,600.06 336.00,599.99 C336.83,599.91 337.67,599.84 338.50,599.77 C339.33,599.69 340.17,599.62 341.00,599.55 C341.83,599.47 342.67,599.40 343.50,599.33 C344.33,599.26 345.17,599.18 346.00,599.11 C346.83,599.04 347.67,598.97 348.50,598.90 C349.33,598.83 350.17,598.76 351.00,598.68 C351.83,598.61 352.67,598.54 353.50,598.47 C354.33,598.40 355.17,598.33 356.00,598.26 C356.83,598.19 357.67,598.12 358.50,598.06 C359.33,597.99 360.17,597.92 361.00,597.85 C361.83,597.78 362.67,597.71 363.50,597.64 C364.33,597.58 365.17,597.51 366.00,597.44 C366.83,597.37 367.67,597.31 368.50,597.24 C369.33,597.17 370.17,597.11 371.00,597.04 C371.83,596.97 372.67,596.91 373.50,596.84 C374.33,596.78 375.17,596.71 376.00,596.65 C376.83,596.58 377.67,596.52 378.50,596.45 C379.33,596.39 380.17,596.32 381.00,596.26 C381.83,596.20 382.67,596.13 383.50,596.07 C384.33,596.01 385.17,595.94 386.00,595.88 C386.83,595.82 387.67,595.75 388.50,595.69 C389.33,595.63 390.17,595.57 391.00,595.51 C391.83,595.45 392.67,595.38 393.50,595.32 C394.33,595.26 395.17,595.20 396.00,595.14 C396.83,595.08 397.67,595.02 398.50,594.96 C399.33,594.90 400.17,594.84 401.00,594.78 C401.83,594.72 402.67,594.66 403.50,594.61 C404.33,594.55 405.17,594.49 406.00,594.43 C406.83,594.37 407.67,594.31 408.50,594.26 C409.33,594.20 410.17,594.14 411.00,594.09 C411.83,594.03 412.67,593.97 413.50,593.92 C414.33,593.86 415.17,593.80 416.00,593.75 C416.83,593.69 417.67,593.64 418.50,593.58 C419.33,593.53 420.17,593.47 421.00,593.42 C421.83,593.36 422.67,593.31 423.50,593.25 C424.33,593.20 425.17,593.15 426.00,593.09 C426.83,593.04 427.67,592.99 428.50,592.94 C429.33,592.88 430.17,592.83 431.00,592.78 C431.83,592.73 432.67,592.67 433.50,592.62 C434.33,592.57 435.17,592.52 436.00,592.47 C436.83,592.42 437.67,592.37 438.50,592.32 C439.33,592.27 440.17,592.22 441.00,592.17 C441.83,592.12 442.67,592.07 443.50,592.02 C444.33,591.97 445.17,591.92 446.00,591.87 C446.83,591.82 447.67,591.78 448.50,591.73 C449.33,591.68 450.17,591.63 451.00,591.59 C451.83,591.54 452.67,591.49 453.50,591.45 C454.33,591.40 455.17,591.35 456.00,591.31 C456.83,591.26 457.67,591.21 458.50,591.17 C459.33,591.12 460.17,591.08 461.00,591.03 C461.83,590.99 462.67,590.94 463.50,590.90 C464.33,590.86 465.17,590.81 466.00,590.77 C466.83,590.73 467.67,590.68 468.50,590.64 C469.33,590.60 470.17,590.55 471.00,590.51 C471.83,590.47 472.67,590.43 473.50,590.39 C474.33,590.34 475.17,590.30 476.00,590.26 C476.83,590.22 477.67,590.18 478.50,590.14 C479.33,590.10 480.17,590.06 481.00,590.02 C481.83,589.98 482.67,589.94 483.50,589.90 C484.33,589.86 485.17,589.82 486.00,589.78 C486.83,589.75 487.67,589.71 488.50,589.67 C489.33,589.63 490.17,589.59 491.00,589.56 C491.83,589.52 493.05,589.47 493.50,589.45 C493.95,589.43 493.67,589.44 493.70,589.44" fill="none" stroke="#f5820a" stroke-width="1.85" stroke-linejoin="round" stroke-linecap="butt"/>
<path d="M61.00,693.90 L61.00,667.30 L61.00,666.94 C61.42,666.52 62.67,665.27 63.50,664.41 C64.33,663.55 65.17,662.67 66.00,661.79 C66.83,660.90 67.67,660.00 68.50,659.10 C69.33,658.19 70.17,657.28 71.00,656.36 C71.83,655.44 72.67,654.51 73.50,653.59 C74.33,652.66 75.17,651.73 76.00,650.80 C76.83,649.87 77.67,648.94 78.50,648.02 C79.33,647.10 80.17,646.18 81.00,645.27 C81.83,644.36 82.67,643.46 83.50,642.57 C84.33,641.68 85.17,640.80 86.00,639.94 C86.83,639.08 87.67,638.23 88.50,637.41 C89.33,636.58 90.17,635.78 91.00,634.99 C91.83,634.21 92.67,633.45 93.50,632.71 C94.33,631.97 95.17,631.26 96.00,630.56 C96.83,629.87 97.67,629.19 98.50,628.54 C99.33,627.89 100.17,627.25 101.00,626.64 C101.83,626.02 102.67,625.43 103.50,624.85 C104.33,624.28 105.17,623.72 106.00,623.18 C106.83,622.64 107.67,622.12 108.50,621.62 C109.33,621.11 110.17,620.62 111.00,620.15 C111.83,619.68 112.67,619.22 113.50,618.78 C114.33,618.34 115.17,617.91 116.00,617.50 C116.83,617.09 117.67,616.69 118.50,616.31 C119.33,615.92 120.17,615.55 121.00,615.20 C121.83,614.84 122.67,614.49 123.50,614.16 C124.33,613.83 125.17,613.50 126.00,613.19 C126.83,612.88 127.67,612.58 128.50,612.29 C129.33,612.00 130.17,611.72 131.00,611.45 C131.83,611.17 132.67,610.91 133.50,610.66 C134.33,610.40 135.17,610.16 136.00,609.92 C136.83,609.68 137.67,609.45 138.50,609.22 C139.33,609.00 140.17,608.78 141.00,608.57 C141.83,608.35 142.67,608.15 143.50,607.94 C144.33,607.74 145.17,607.54 146.00,607.35 C146.83,607.16 147.67,606.97 148.50,606.78 C149.33,606.59 150.17,606.41 151.00,606.23 C151.83,606.05 152.67,605.87 153.50,605.69 C154.33,605.51 155.17,605.33 156.00,605.16 C156.83,604.98 157.67,604.81 158.50,604.63 C159.33,604.46 160.17,604.29 161.00,604.12 C161.83,603.95 162.67,603.78 163.50,603.62 C164.33,603.45 165.17,603.28 166.00,603.12 C166.83,602.95 167.67,602.79 168.50,602.63 C169.33,602.47 170.17,602.31 171.00,602.15 C171.83,601.99 172.67,601.83 173.50,601.68 C174.33,601.52 175.17,601.37 176.00,601.21 C176.83,601.06 177.67,600.91 178.50,600.75 C179.33,600.60 180.17,600.45 181.00,600.30 C181.83,600.16 182.67,600.01 183.50,599.86 C184.33,599.72 185.17,599.57 186.00,599.43 C186.83,599.29 187.67,599.14 188.50,599.00 C189.33,598.86 190.17,598.72 191.00,598.58 C191.83,598.44 192.67,598.31 193.50,598.17 C194.33,598.03 195.17,597.90 196.00,597.77 C196.83,597.63 197.67,597.50 198.50,597.37 C199.33,597.24 200.17,597.11 201.00,596.98 C201.83,596.85 202.67,596.72 203.50,596.59 C204.33,596.47 205.17,596.34 206.00,596.22 C206.83,596.09 207.67,595.97 208.50,595.85 C209.33,595.72 210.17,595.60 211.00,595.48 C211.83,595.36 212.67,595.24 213.50,595.13 C214.33,595.01 215.17,594.89 216.00,594.78 C216.83,594.66 217.67,594.55 218.50,594.43 C219.33,594.32 220.17,594.21 221.00,594.10 C221.83,593.98 222.67,593.87 223.50,593.76 C224.33,593.65 225.17,593.55 226.00,593.44 C226.83,593.33 227.67,593.23 228.50,593.12 C229.33,593.01 230.17,592.91 231.00,592.81 C231.83,592.70 232.67,592.60 233.50,592.50 C234.33,592.40 235.17,592.30 236.00,592.20 C236.83,592.10 237.67,592.00 238.50,591.90 C239.33,591.81 240.17,591.71 241.00,591.61 C241.83,591.52 242.67,591.42 243.50,591.33 C244.33,591.24 245.17,591.14 246.00,591.05 C246.83,590.96 247.67,590.87 248.50,590.78 C249.33,590.69 250.17,590.60 251.00,590.51 C251.83,590.42 252.67,590.33 253.50,590.25 C254.33,590.16 255.17,590.07 256.00,589.99 C256.83,589.90 257.67,589.82 258.50,589.74 C259.33,589.65 260.17,589.57 261.00,589.49 C261.83,589.41 262.67,589.33 263.50,589.25 C264.33,589.17 265.17,589.09 266.00,589.01 C266.83,588.93 267.67,588.85 268.50,588.77 C269.33,588.70 270.17,588.62 271.00,588.55 C271.83,588.47 272.67,588.40 273.50,588.32 C274.33,588.25 275.17,588.18 276.00,588.10 C276.83,588.03 277.67,587.96 278.50,587.89 C279.33,587.82 280.17,587.75 281.00,587.68 C281.83,587.61 282.67,587.54 283.50,587.47 C284.33,587.40 285.17,587.33 286.00,587.27 C286.83,587.20 287.67,587.13 288.50,587.07 C289.33,587.00 290.17,586.94 291.00,586.87 C291.83,586.81 292.67,586.75 293.50,586.68 C294.33,586.62 295.17,586.56 296.00,586.50 C296.83,586.43 297.67,586.37 298.50,586.31 C299.33,586.25 300.17,586.19 301.00,586.13 C301.83,586.07 302.67,586.01 303.50,585.96 C304.33,585.90 305.17,585.84 306.00,585.78 C306.83,585.73 307.67,585.67 308.50,585.61 C309.33,585.56 310.17,585.50 311.00,585.45 C311.83,585.39 312.67,585.34 313.50,585.29 C314.33,585.23 315.17,585.18 316.00,585.13 C316.83,585.07 317.67,585.02 318.50,584.97 C319.33,584.92 320.17,584.87 321.00,584.81 C321.83,584.76 322.67,584.71 323.50,584.66 C324.33,584.61 325.17,584.56 326.00,584.51 C326.83,584.47 327.67,584.42 328.50,584.37 C329.33,584.32 330.17,584.27 331.00,584.23 C331.83,584.18 332.67,584.13 333.50,584.08 C334.33,584.04 335.17,583.99 336.00,583.95 C336.83,583.90 337.67,583.85 338.50,583.81 C339.33,583.76 340.17,583.72 341.00,583.68 C341.83,583.63 342.67,583.59 343.50,583.54 C344.33,583.50 345.17,583.46 346.00,583.41 C346.83,583.37 347.67,583.33 348.50,583.29 C349.33,583.24 350.17,583.20 351.00,583.16 C351.83,583.12 352.67,583.08 353.50,583.04 C354.33,583.00 355.17,582.95 356.00,582.91 C356.83,582.87 357.67,582.83 358.50,582.79 C359.33,582.75 360.17,582.71 361.00,582.67 C361.83,582.63 362.67,582.60 363.50,582.56 C364.33,582.52 365.17,582.48 366.00,582.44 C366.83,582.40 367.67,582.36 368.50,582.32 C369.33,582.29 370.17,582.25 371.00,582.21 C371.83,582.17 372.67,582.13 373.50,582.10 C374.33,582.06 375.17,582.02 376.00,581.99 C376.83,581.95 377.67,581.91 378.50,581.87 C379.33,581.84 380.17,581.80 381.00,581.76 C381.83,581.73 382.67,581.69 383.50,581.66 C384.33,581.62 385.17,581.58 386.00,581.55 C386.83,581.51 387.67,581.47 388.50,581.44 C389.33,581.40 390.17,581.37 391.00,581.33 C391.83,581.29 392.67,581.26 393.50,581.22 C394.33,581.19 395.17,581.15 396.00,581.12 C396.83,581.08 397.67,581.05 398.50,581.01 C399.33,580.97 400.17,580.94 401.00,580.90 C401.83,580.87 402.67,580.83 403.50,580.80 C404.33,580.76 405.17,580.73 406.00,580.69 C406.83,580.65 407.67,580.62 408.50,580.58 C409.33,580.55 410.17,580.51 411.00,580.48 C411.83,580.44 412.67,580.41 413.50,580.37 C414.33,580.33 415.17,580.30 416.00,580.26 C416.83,580.23 417.67,580.19 418.50,580.15 C419.33,580.12 420.17,580.08 421.00,580.05 C421.83,580.01 422.67,579.97 423.50,579.94 C424.33,579.90 425.17,579.86 426.00,579.83 C426.83,579.79 427.67,579.75 428.50,579.72 C429.33,579.68 430.17,579.64 431.00,579.61 C431.83,579.57 432.67,579.53 433.50,579.49 C434.33,579.46 435.17,579.42 436.00,579.38 C436.83,579.34 437.67,579.30 438.50,579.27 C439.33,579.23 440.17,579.19 441.00,579.15 C441.83,579.11 442.67,579.07 443.50,579.03 C444.33,578.99 445.17,578.95 446.00,578.91 C446.83,578.87 447.67,578.83 448.50,578.79 C449.33,578.75 450.17,578.71 451.00,578.67 C451.83,578.63 452.67,578.59 453.50,578.55 C454.33,578.51 455.17,578.47 456.00,578.42 C456.83,578.38 457.67,578.34 458.50,578.30 C459.33,578.26 460.17,578.21 461.00,578.17 C461.83,578.13 462.67,578.08 463.50,578.04 C464.33,577.99 465.17,577.95 466.00,577.91 C466.83,577.86 467.67,577.82 468.50,577.77 C469.33,577.73 470.17,577.68 471.00,577.63 C471.83,577.59 472.67,577.54 473.50,577.49 C474.33,577.45 475.17,577.40 476.00,577.35 C476.83,577.30 477.67,577.26 478.50,577.21 C479.33,577.16 480.17,577.11 481.00,577.06 C481.83,577.01 482.67,576.96 483.50,576.91 C484.33,576.86 485.17,576.81 486.00,576.76 C486.83,576.71 487.67,576.66 488.50,576.60 C489.33,576.55 490.17,576.50 491.00,576.44 C491.83,576.39 493.05,576.31 493.50,576.28 C493.95,576.25 493.67,576.27 493.70,576.27" fill="none" stroke="#501464" stroke-width="1.85" stroke-linejoin="round" stroke-linecap="butt"/>
<path d="M61.00,693.90 L61.00,678.60 L61.00,678.60 C61.13,678.43 61.30,678.20 61.80,677.60 C62.30,677.00 63.27,675.95 64.00,675.00 C64.73,674.05 65.45,673.05 66.20,671.90 C66.95,670.75 67.73,669.12 68.50,668.10 C69.27,667.08 69.78,666.52 70.80,665.80 C71.82,665.08 73.65,664.67 74.60,663.80 C75.55,662.93 75.73,661.48 76.50,660.60 C77.27,659.72 78.10,659.37 79.20,658.50 C80.30,657.63 81.93,656.58 83.10,655.40 C84.27,654.22 84.92,652.93 86.20,651.40 C87.48,649.87 89.40,647.88 90.80,646.20 C92.20,644.52 93.45,642.80 94.60,641.30 C95.75,639.80 96.80,638.15 97.70,637.20 C98.60,636.25 99.20,636.07 100.00,635.60 C100.80,635.13 101.78,634.80 102.50,634.40 C103.22,634.00 103.45,634.13 104.30,633.20 C105.15,632.27 106.33,629.95 107.60,628.80 C108.87,627.65 110.58,627.47 111.90,626.30 C113.22,625.13 114.40,623.28 115.50,621.80 C116.60,620.32 117.50,618.57 118.50,617.40 C119.50,616.23 120.30,615.70 121.50,614.80 C122.70,613.90 123.58,613.48 125.70,612.00 C127.82,610.52 131.57,607.73 134.20,605.90 C136.83,604.07 138.35,602.98 141.50,601.00 C144.65,599.02 149.25,596.22 153.10,594.00 C156.95,591.78 160.77,589.88 164.60,587.70 C168.43,585.52 172.83,582.63 176.10,580.90 C179.37,579.17 181.88,578.22 184.20,577.30 C186.52,576.38 187.37,576.17 190.00,575.40 C192.63,574.63 196.33,573.70 200.00,572.70 C203.67,571.70 207.77,570.77 212.00,569.40 C216.23,568.03 220.60,566.15 225.40,564.50 C230.20,562.85 235.67,561.08 240.80,559.50 C245.93,557.92 251.08,556.42 256.20,555.00 C261.32,553.58 266.20,552.30 271.50,551.00 C276.80,549.70 282.68,548.23 288.00,547.20 C293.32,546.17 298.27,545.57 303.40,544.80 C308.53,544.03 313.67,543.28 318.80,542.60 C323.93,541.92 329.67,541.30 334.20,540.70 C338.73,540.10 341.70,539.57 346.00,539.00 C350.30,538.43 356.38,537.97 360.00,537.30 C363.62,536.63 365.13,535.77 367.70,535.00 C370.27,534.23 371.55,533.47 375.40,532.70 C379.25,531.93 385.67,531.10 390.80,530.40 C395.93,529.70 401.08,529.07 406.20,528.50 C411.32,527.93 415.87,527.48 421.50,527.00 C427.13,526.52 435.00,525.88 440.00,525.60 C445.00,525.32 448.17,525.47 451.50,525.30 C454.83,525.13 457.42,524.92 460.00,524.60 C462.58,524.28 464.57,523.78 467.00,523.40 C469.43,523.02 470.22,522.83 474.60,522.30 C478.98,521.77 490.18,520.55 493.30,520.20" fill="none" stroke="#33b43c" stroke-width="1.85" stroke-linejoin="round" stroke-linecap="butt"/>
<path d="M61.00,693.90 L61.00,662.00 L61.00,662.00 C61.08,661.73 61.03,662.30 61.50,660.40 C61.97,658.50 63.02,652.85 63.80,650.60 C64.58,648.35 65.30,648.08 66.20,646.90 C67.10,645.72 68.50,644.68 69.20,643.50 C69.90,642.32 70.02,641.18 70.40,639.80 C70.78,638.42 71.02,636.95 71.50,635.20 C71.98,633.45 72.65,631.08 73.30,629.30 C73.95,627.52 74.75,625.92 75.40,624.50 C76.05,623.08 76.25,622.70 77.20,620.80 C78.15,618.90 79.82,615.53 81.10,613.10 C82.38,610.67 83.62,608.45 84.90,606.20 C86.18,603.95 87.52,601.78 88.80,599.60 C90.08,597.42 91.40,595.12 92.60,593.10 C93.80,591.08 94.80,589.27 96.00,587.50 C97.20,585.73 98.52,584.03 99.80,582.50 C101.08,580.97 101.77,580.15 103.70,578.30 C105.63,576.45 108.83,573.45 111.40,571.40 C113.97,569.35 116.53,567.80 119.10,566.00 C121.67,564.20 124.48,562.18 126.80,560.60 C129.12,559.02 130.67,558.02 133.00,556.50 C135.33,554.98 138.03,553.05 140.80,551.50 C143.57,549.95 146.53,548.40 149.60,547.20 C152.67,546.00 156.00,545.18 159.20,544.30 C162.40,543.42 166.38,542.53 168.80,541.90 C171.22,541.27 172.42,541.03 173.70,540.50 C174.98,539.97 175.38,539.27 176.50,538.70 C177.62,538.13 178.98,537.50 180.40,537.10 C181.82,536.70 183.40,536.57 185.00,536.30 C186.60,536.03 188.20,535.88 190.00,535.50 C191.80,535.12 192.13,534.97 195.80,534.00 C199.47,533.03 207.07,531.27 212.00,529.70 C216.93,528.13 220.60,526.08 225.40,524.60 C230.20,523.12 235.67,521.85 240.80,520.80 C245.93,519.75 252.87,518.93 256.20,518.30 C259.53,517.67 259.53,517.45 260.80,517.00 C262.07,516.55 262.52,516.10 263.80,515.60 C265.08,515.10 266.43,514.30 268.50,514.00 C270.57,513.70 273.90,514.23 276.20,513.80 C278.50,513.37 280.33,512.03 282.30,511.40 C284.27,510.77 285.25,510.62 288.00,510.00 C290.75,509.38 296.23,508.47 298.80,507.70 C301.37,506.93 302.25,505.95 303.40,505.40 C304.55,504.85 304.55,504.58 305.70,504.40 C306.85,504.22 309.02,504.55 310.30,504.30 C311.58,504.05 311.98,503.25 313.40,502.90 C314.82,502.55 316.62,502.67 318.80,502.20 C320.98,501.73 323.93,500.67 326.50,500.10 C329.07,499.53 330.37,499.33 334.20,498.80 C338.03,498.27 344.20,497.48 349.50,496.90 C354.80,496.32 362.73,495.67 366.00,495.30 C369.27,494.93 367.82,495.10 369.10,494.70 C370.38,494.30 372.17,493.37 373.70,492.90 C375.23,492.43 376.00,492.08 378.30,491.90 C380.60,491.72 385.18,492.00 387.50,491.80 C389.82,491.60 390.40,491.18 392.20,490.70 C394.00,490.22 396.00,489.40 398.30,488.90 C400.60,488.40 402.92,488.15 406.00,487.70 C409.08,487.25 413.22,486.67 416.80,486.20 C420.38,485.73 423.63,485.28 427.50,484.90 C431.37,484.52 436.00,484.37 440.00,483.90 C444.00,483.43 447.65,482.62 451.50,482.10 C455.35,481.58 458.67,481.25 463.10,480.80 C467.53,480.35 475.03,479.78 478.10,479.40 C481.17,479.02 480.25,478.93 481.50,478.50 C482.75,478.07 484.35,477.07 485.60,476.80 C486.85,476.53 487.72,476.85 489.00,476.90 C490.28,476.95 492.58,477.07 493.30,477.10" fill="none" stroke="#005a3c" stroke-width="1.85" stroke-linejoin="round" stroke-linecap="butt"/>
<path d="M61.00,693.90 L61.00,651.00 L61.00,650.91 C61.42,649.07 62.67,642.68 63.50,639.87 C64.33,637.07 65.17,635.92 66.00,634.06 C66.83,632.21 67.67,630.48 68.50,628.73 C69.33,626.98 70.17,625.28 71.00,623.58 C71.83,621.87 72.67,620.20 73.50,618.51 C74.33,616.81 75.17,615.12 76.00,613.43 C76.83,611.74 77.67,610.05 78.50,608.38 C79.33,606.71 80.17,605.05 81.00,603.41 C81.83,601.77 82.67,600.15 83.50,598.56 C84.33,596.98 85.17,595.41 86.00,593.89 C86.83,592.37 87.67,590.88 88.50,589.44 C89.33,588.01 90.17,586.61 91.00,585.27 C91.83,583.93 92.67,582.65 93.50,581.42 C94.33,580.19 95.17,579.02 96.00,577.89 C96.83,576.77 97.67,575.71 98.50,574.68 C99.33,573.66 100.17,572.69 101.00,571.76 C101.83,570.83 102.67,569.95 103.50,569.11 C104.33,568.27 105.17,567.47 106.00,566.71 C106.83,565.95 107.67,565.23 108.50,564.54 C109.33,563.85 110.17,563.19 111.00,562.57 C111.83,561.95 112.67,561.36 113.50,560.79 C114.33,560.23 115.17,559.69 116.00,559.18 C116.83,558.67 117.67,558.19 118.50,557.72 C119.33,557.26 120.17,556.82 121.00,556.39 C121.83,555.97 122.67,555.56 123.50,555.17 C124.33,554.78 125.17,554.41 126.00,554.04 C126.83,553.68 127.67,553.33 128.50,552.99 C129.33,552.65 130.17,552.31 131.00,551.99 C131.83,551.66 132.67,551.34 133.50,551.02 C134.33,550.70 135.17,550.38 136.00,550.07 C136.83,549.75 137.67,549.43 138.50,549.11 C139.33,548.79 140.17,548.46 141.00,548.13 C141.83,547.80 142.67,547.46 143.50,547.11 C144.33,546.77 145.17,546.42 146.00,546.08 C146.83,545.73 147.67,545.38 148.50,545.03 C149.33,544.68 150.17,544.33 151.00,543.99 C151.83,543.65 152.67,543.31 153.50,542.97 C154.33,542.64 155.17,542.31 156.00,542.00 C156.83,541.68 157.67,541.37 158.50,541.07 C159.33,540.78 160.17,540.49 161.00,540.22 C161.83,539.95 162.67,539.69 163.50,539.46 C164.33,539.22 165.17,538.99 166.00,538.79 C166.83,538.59 167.67,538.41 168.50,538.24 C169.33,538.07 170.17,537.92 171.00,537.78 C171.83,537.63 172.67,537.51 173.50,537.38 C174.33,537.25 175.17,537.14 176.00,537.02 C176.83,536.90 177.67,536.78 178.50,536.66 C179.33,536.54 180.17,536.41 181.00,536.28 C181.83,536.14 182.67,535.99 183.50,535.84 C184.33,535.68 185.17,535.51 186.00,535.33 C186.83,535.15 187.67,534.97 188.50,534.77 C189.33,534.57 190.17,534.37 191.00,534.16 C191.83,533.95 192.67,533.73 193.50,533.51 C194.33,533.29 195.17,533.06 196.00,532.83 C196.83,532.60 197.67,532.36 198.50,532.13 C199.33,531.89 200.17,531.66 201.00,531.42 C201.83,531.18 202.67,530.94 203.50,530.71 C204.33,530.47 205.17,530.23 206.00,530.00 C206.83,529.77 207.67,529.54 208.50,529.32 C209.33,529.09 210.17,528.87 211.00,528.66 C211.83,528.44 212.67,528.24 213.50,528.03 C214.33,527.83 215.17,527.64 216.00,527.45 C216.83,527.26 217.67,527.08 218.50,526.90 C219.33,526.72 220.17,526.55 221.00,526.38 C221.83,526.22 222.67,526.05 223.50,525.90 C224.33,525.74 225.17,525.59 226.00,525.44 C226.83,525.29 227.67,525.14 228.50,525.00 C229.33,524.86 230.17,524.72 231.00,524.59 C231.83,524.45 232.67,524.32 233.50,524.19 C234.33,524.06 235.17,523.94 236.00,523.81 C236.83,523.69 237.67,523.56 238.50,523.44 C239.33,523.32 240.17,523.20 241.00,523.08 C241.83,522.97 242.67,522.85 243.50,522.73 C244.33,522.62 245.17,522.50 246.00,522.39 C246.83,522.28 247.67,522.16 248.50,522.05 C249.33,521.94 250.17,521.83 251.00,521.72 C251.83,521.61 252.67,521.51 253.50,521.40 C254.33,521.29 255.17,521.19 256.00,521.08 C256.83,520.98 257.67,520.88 258.50,520.77 C259.33,520.67 260.17,520.57 261.00,520.47 C261.83,520.37 262.67,520.27 263.50,520.17 C264.33,520.08 265.17,519.98 266.00,519.88 C266.83,519.79 267.67,519.69 268.50,519.60 C269.33,519.51 270.17,519.41 271.00,519.32 C271.83,519.23 272.67,519.14 273.50,519.05 C274.33,518.96 275.17,518.87 276.00,518.78 C276.83,518.70 277.67,518.61 278.50,518.52 C279.33,518.44 280.17,518.35 281.00,518.27 C281.83,518.19 282.67,518.10 283.50,518.02 C284.33,517.94 285.17,517.86 286.00,517.78 C286.83,517.70 287.67,517.62 288.50,517.54 C289.33,517.46 290.17,517.39 291.00,517.31 C291.83,517.23 292.67,517.16 293.50,517.09 C294.33,517.01 295.17,516.94 296.00,516.86 C296.83,516.79 297.67,516.72 298.50,516.65 C299.33,516.58 300.17,516.51 301.00,516.44 C301.83,516.37 302.67,516.30 303.50,516.24 C304.33,516.17 305.17,516.10 306.00,516.04 C306.83,515.97 307.67,515.90 308.50,515.84 C309.33,515.78 310.17,515.71 311.00,515.65 C311.83,515.59 312.67,515.53 313.50,515.47 C314.33,515.41 315.17,515.35 316.00,515.29 C316.83,515.23 317.67,515.17 318.50,515.11 C319.33,515.05 320.17,515.00 321.00,514.94 C321.83,514.88 322.67,514.83 323.50,514.77 C324.33,514.72 325.17,514.66 326.00,514.61 C326.83,514.56 327.67,514.51 328.50,514.45 C329.33,514.40 330.17,514.35 331.00,514.30 C331.83,514.25 332.67,514.20 333.50,514.15 C334.33,514.10 335.17,514.05 336.00,514.01 C336.83,513.96 337.67,513.91 338.50,513.87 C339.33,513.82 340.17,513.77 341.00,513.73 C341.83,513.68 342.67,513.64 343.50,513.59 C344.33,513.55 345.17,513.51 346.00,513.47 C346.83,513.42 347.67,513.38 348.50,513.34 C349.33,513.30 350.17,513.26 351.00,513.22 C351.83,513.18 352.67,513.14 353.50,513.10 C354.33,513.06 355.17,513.02 356.00,512.98 C356.83,512.95 357.67,512.91 358.50,512.87 C359.33,512.84 360.17,512.80 361.00,512.76 C361.83,512.73 362.67,512.69 363.50,512.66 C364.33,512.62 365.17,512.59 366.00,512.56 C366.83,512.52 367.67,512.49 368.50,512.46 C369.33,512.42 370.17,512.39 371.00,512.36 C371.83,512.33 372.67,512.30 373.50,512.27 C374.33,512.24 375.17,512.21 376.00,512.18 C376.83,512.15 377.67,512.12 378.50,512.09 C379.33,512.06 380.17,512.03 381.00,512.00 C381.83,511.98 382.67,511.95 383.50,511.92 C384.33,511.89 385.17,511.87 386.00,511.84 C386.83,511.82 387.67,511.79 388.50,511.76 C389.33,511.74 390.17,511.71 391.00,511.69 C391.83,511.66 392.67,511.64 393.50,511.62 C394.33,511.59 395.17,511.57 396.00,511.54 C396.83,511.52 397.67,511.50 398.50,511.48 C399.33,511.45 400.17,511.43 401.00,511.41 C401.83,511.39 402.67,511.37 403.50,511.34 C404.33,511.32 405.17,511.30 406.00,511.28 C406.83,511.26 407.67,511.24 408.50,511.22 C409.33,511.20 410.17,511.18 411.00,511.16 C411.83,511.14 412.67,511.12 413.50,511.10 C414.33,511.08 415.17,511.06 416.00,511.04 C416.83,511.03 417.67,511.01 418.50,510.99 C419.33,510.97 420.17,510.95 421.00,510.94 C421.83,510.92 422.67,510.90 423.50,510.88 C424.33,510.87 425.17,510.85 426.00,510.83 C426.83,510.82 427.67,510.80 428.50,510.78 C429.33,510.77 430.17,510.75 431.00,510.73 C431.83,510.72 432.67,510.70 433.50,510.68 C434.33,510.67 435.17,510.65 436.00,510.64 C436.83,510.62 437.67,510.61 438.50,510.59 C439.33,510.57 440.17,510.56 441.00,510.54 C441.83,510.53 442.67,510.51 443.50,510.50 C444.33,510.48 445.17,510.47 446.00,510.45 C446.83,510.44 447.67,510.42 448.50,510.41 C449.33,510.40 450.17,510.38 451.00,510.37 C451.83,510.35 452.67,510.34 453.50,510.32 C454.33,510.31 455.17,510.29 456.00,510.28 C456.83,510.26 457.67,510.25 458.50,510.24 C459.33,510.22 460.17,510.21 461.00,510.19 C461.83,510.18 462.67,510.16 463.50,510.15 C464.33,510.13 465.17,510.12 466.00,510.11 C466.83,510.09 467.67,510.08 468.50,510.06 C469.33,510.05 470.17,510.03 471.00,510.02 C471.83,510.00 472.67,509.99 473.50,509.97 C474.33,509.96 475.17,509.94 476.00,509.93 C476.83,509.91 477.67,509.90 478.50,509.88 C479.33,509.87 480.17,509.85 481.00,509.84 C481.83,509.82 482.67,509.81 483.50,509.79 C484.33,509.78 485.17,509.76 486.00,509.75 C486.83,509.73 487.67,509.71 488.50,509.70 C489.33,509.68 490.20,509.66 491.00,509.65 C491.80,509.63 492.92,509.61 493.30,509.60" fill="none" stroke="#c8102e" stroke-width="1.85" stroke-linejoin="round" stroke-linecap="butt"/>
<path d="M61.00,693.90 L61.00,654.00 L61.00,654.00 C61.23,653.05 61.72,650.33 62.40,648.30 C63.08,646.27 64.20,643.88 65.10,641.80 C66.00,639.72 66.88,637.78 67.80,635.80 C68.72,633.82 69.42,632.40 70.60,629.90 C71.78,627.40 73.53,623.73 74.90,620.80 C76.27,617.87 77.52,614.87 78.80,612.30 C80.08,609.73 81.20,607.58 82.60,605.40 C84.00,603.22 85.67,601.07 87.20,599.20 C88.73,597.33 90.33,595.57 91.80,594.20 C93.27,592.83 94.67,592.12 96.00,591.00 C97.33,589.88 98.52,588.58 99.80,587.50 C101.08,586.42 101.77,585.78 103.70,584.50 C105.63,583.22 108.83,581.22 111.40,579.80 C113.97,578.38 116.53,577.15 119.10,576.00 C121.67,574.85 123.98,573.90 126.80,572.90 C129.62,571.90 132.13,571.03 136.00,570.00 C139.87,568.97 146.07,567.50 150.00,566.70 C153.93,565.90 156.72,565.72 159.60,565.20 C162.48,564.68 165.22,564.27 167.30,563.60 C169.38,562.93 170.65,561.82 172.10,561.20 C173.55,560.58 174.07,560.28 176.00,559.90 C177.93,559.52 180.82,559.28 183.70,558.90 C186.58,558.52 190.58,557.90 193.30,557.60 C196.02,557.30 196.88,557.40 200.00,557.10 C203.12,556.80 207.77,556.28 212.00,555.80 C216.23,555.32 220.60,554.77 225.40,554.20 C230.20,553.63 235.67,553.03 240.80,552.40 C245.93,551.77 251.08,551.05 256.20,550.40 C261.32,549.75 266.20,549.10 271.50,548.50 C276.80,547.90 282.68,547.48 288.00,546.80 C293.32,546.12 298.27,545.15 303.40,544.40 C308.53,543.65 313.67,542.98 318.80,542.30 C323.93,541.62 329.08,540.92 334.20,540.30 C339.32,539.68 343.87,539.13 349.50,538.60 C355.13,538.07 360.12,537.65 368.00,537.10 C375.88,536.55 386.88,535.95 396.80,535.30 C406.72,534.65 419.30,533.77 427.50,533.20 C435.70,532.63 440.07,532.28 446.00,531.90 C451.93,531.52 455.22,531.35 463.10,530.90 C470.98,530.45 488.27,529.48 493.30,529.20" fill="none" stroke="#003d7a" stroke-width="1.85" stroke-linejoin="round" stroke-linecap="butt"/>
<rect x="0" y="0" width="520" height="1.5" fill="#0a0a0a"/>
<rect x="0" y="0" width="1.5" height="738" fill="#0a0a0a"/>
<rect x="518.1" y="0" width="1.9" height="738" fill="#0a0a0a"/>
<rect x="0" y="736" width="520" height="2" fill="#0a0a0a"/>
</svg>
</body></html>
